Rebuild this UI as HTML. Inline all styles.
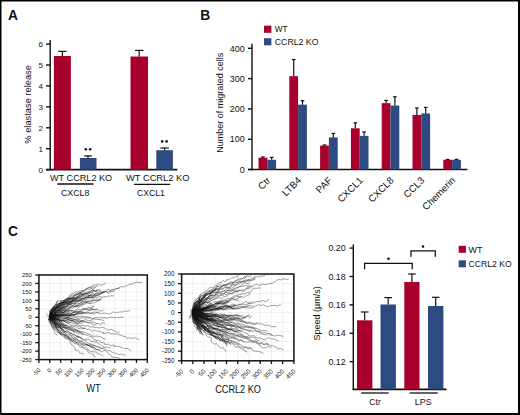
<!DOCTYPE html>
<html><head><meta charset="utf-8"><style>
html,body{margin:0;padding:0;background:#fff;overflow:hidden;}
svg{display:block;}
text{font-family:"Liberation Sans", sans-serif;}
</style></head><body>
<svg width="520" height="415" viewBox="0 0 520 415">
<rect width="520" height="415" fill="#fff"/>
<rect x="0.00" y="0.00" width="520.00" height="1.50" fill="#000"/>
<rect x="0.00" y="0.00" width="1.50" height="415.00" fill="#000"/>
<rect x="518.00" y="0.00" width="2.00" height="415.00" fill="#000"/>
<rect x="0.00" y="413.00" width="520.00" height="2.00" fill="#000"/>
<text x="8.10" y="19.50" font-size="13.8" font-weight="bold" fill="#111">A</text>
<text x="200.30" y="19.60" font-size="13.8" font-weight="bold" fill="#111">B</text>
<text x="8.00" y="235.90" font-size="13.8" font-weight="bold" fill="#111">C</text>
<line x1="50.20" y1="40.00" x2="50.20" y2="170.35" stroke="#111" stroke-width="1.4"/>
<line x1="46.00" y1="169.65" x2="177.30" y2="169.65" stroke="#111" stroke-width="1.7"/>
<line x1="46.00" y1="169.65" x2="50.20" y2="169.65" stroke="#111" stroke-width="1.4"/>
<text x="42.90" y="172.55" font-size="8.0" text-anchor="end" fill="#111">0</text>
<line x1="46.00" y1="148.72" x2="50.20" y2="148.72" stroke="#111" stroke-width="1.4"/>
<text x="42.90" y="151.62" font-size="8.0" text-anchor="end" fill="#111">1</text>
<line x1="46.00" y1="127.79" x2="50.20" y2="127.79" stroke="#111" stroke-width="1.4"/>
<text x="42.90" y="130.69" font-size="8.0" text-anchor="end" fill="#111">2</text>
<line x1="46.00" y1="106.86" x2="50.20" y2="106.86" stroke="#111" stroke-width="1.4"/>
<text x="42.90" y="109.76" font-size="8.0" text-anchor="end" fill="#111">3</text>
<line x1="46.00" y1="85.93" x2="50.20" y2="85.93" stroke="#111" stroke-width="1.4"/>
<text x="42.90" y="88.83" font-size="8.0" text-anchor="end" fill="#111">4</text>
<line x1="46.00" y1="65.00" x2="50.20" y2="65.00" stroke="#111" stroke-width="1.4"/>
<text x="42.90" y="67.90" font-size="8.0" text-anchor="end" fill="#111">5</text>
<line x1="46.00" y1="44.07" x2="50.20" y2="44.07" stroke="#111" stroke-width="1.4"/>
<text x="42.90" y="46.97" font-size="8.0" text-anchor="end" fill="#111">6</text>
<text x="31.40" y="104.40" font-size="9.3" text-anchor="middle" transform="rotate(-90 31.40 104.40)" fill="#111">% elastase release</text>
<rect x="53.90" y="56.00" width="17.00" height="113.65" fill="#a8002c"/>
<line x1="62.40" y1="56.00" x2="62.40" y2="51.40" stroke="#111" stroke-width="1.2"/>
<line x1="58.30" y1="51.40" x2="66.50" y2="51.40" stroke="#111" stroke-width="1.2"/>
<rect x="79.90" y="158.00" width="16.60" height="11.65" fill="#2d4b80"/>
<line x1="88.00" y1="158.00" x2="88.00" y2="155.90" stroke="#111" stroke-width="1.2"/>
<line x1="84.20" y1="155.90" x2="91.80" y2="155.90" stroke="#111" stroke-width="1.2"/>
<rect x="130.50" y="56.50" width="17.50" height="113.15" fill="#a8002c"/>
<line x1="139.20" y1="56.50" x2="139.20" y2="50.40" stroke="#111" stroke-width="1.2"/>
<line x1="134.95" y1="50.40" x2="143.45" y2="50.40" stroke="#111" stroke-width="1.2"/>
<rect x="156.30" y="150.20" width="16.60" height="19.45" fill="#2d4b80"/>
<line x1="164.60" y1="150.20" x2="164.60" y2="148.00" stroke="#111" stroke-width="1.2"/>
<line x1="160.30" y1="148.00" x2="168.90" y2="148.00" stroke="#111" stroke-width="1.2"/>
<circle cx="85.80" cy="149.30" r="1.3" fill="#111"/>
<circle cx="90.20" cy="149.30" r="1.3" fill="#111"/>
<circle cx="162.20" cy="141.40" r="1.3" fill="#111"/>
<circle cx="166.60" cy="141.40" r="1.3" fill="#111"/>
<text x="50.00" y="181.40" font-size="9" textLength="62.20" lengthAdjust="spacingAndGlyphs" fill="#111">WT CCRL2 KO</text>
<line x1="57.40" y1="184.00" x2="93.50" y2="184.00" stroke="#111" stroke-width="1.3"/>
<text x="75.20" y="195.80" font-size="9" text-anchor="middle" textLength="28.50" lengthAdjust="spacingAndGlyphs" fill="#111">CXCL8</text>
<text x="126.00" y="181.40" font-size="9" textLength="63.50" lengthAdjust="spacingAndGlyphs" fill="#111">WT CCRL2 KO</text>
<line x1="134.10" y1="184.30" x2="170.20" y2="184.30" stroke="#111" stroke-width="1.3"/>
<text x="150.90" y="195.80" font-size="9" text-anchor="middle" textLength="27.70" lengthAdjust="spacingAndGlyphs" fill="#111">CXCL1</text>
<line x1="252.00" y1="43.80" x2="252.00" y2="170.20" stroke="#111" stroke-width="1.4"/>
<line x1="248.00" y1="169.50" x2="467.40" y2="169.50" stroke="#111" stroke-width="1.7"/>
<line x1="248.00" y1="169.50" x2="252.00" y2="169.50" stroke="#111" stroke-width="1.4"/>
<text x="244.80" y="172.70" font-size="9.0" text-anchor="end" fill="#111">0</text>
<line x1="248.00" y1="139.20" x2="252.00" y2="139.20" stroke="#111" stroke-width="1.4"/>
<text x="244.80" y="142.40" font-size="9.0" text-anchor="end" fill="#111">100</text>
<line x1="248.00" y1="108.90" x2="252.00" y2="108.90" stroke="#111" stroke-width="1.4"/>
<text x="244.80" y="112.10" font-size="9.0" text-anchor="end" fill="#111">200</text>
<line x1="248.00" y1="78.60" x2="252.00" y2="78.60" stroke="#111" stroke-width="1.4"/>
<text x="244.80" y="81.80" font-size="9.0" text-anchor="end" fill="#111">300</text>
<line x1="248.00" y1="48.30" x2="252.00" y2="48.30" stroke="#111" stroke-width="1.4"/>
<text x="244.80" y="51.50" font-size="9.0" text-anchor="end" fill="#111">400</text>
<text x="223.00" y="102.70" font-size="9" text-anchor="middle" transform="rotate(-90 223.00 102.70)" fill="#111">Number of migrated cells</text>
<rect x="258.50" y="157.68" width="8.80" height="11.82" fill="#a8002c"/>
<rect x="267.30" y="159.80" width="8.80" height="9.70" fill="#2d4b80"/>
<line x1="262.90" y1="157.68" x2="262.90" y2="156.93" stroke="#111" stroke-width="1.2"/>
<line x1="261.10" y1="156.93" x2="264.70" y2="156.93" stroke="#111" stroke-width="1.2"/>
<line x1="271.70" y1="159.80" x2="271.70" y2="157.38" stroke="#111" stroke-width="1.2"/>
<line x1="269.90" y1="157.38" x2="273.50" y2="157.38" stroke="#111" stroke-width="1.2"/>
<text x="271.10" y="181.00" font-size="9.7" text-anchor="end" transform="rotate(-45 271.10 181.00)" fill="#111">Ctr</text>
<rect x="289.30" y="76.18" width="8.80" height="93.32" fill="#a8002c"/>
<rect x="298.10" y="104.66" width="8.80" height="64.84" fill="#2d4b80"/>
<line x1="293.70" y1="76.18" x2="293.70" y2="59.51" stroke="#111" stroke-width="1.2"/>
<line x1="291.90" y1="59.51" x2="295.50" y2="59.51" stroke="#111" stroke-width="1.2"/>
<line x1="302.50" y1="104.66" x2="302.50" y2="100.72" stroke="#111" stroke-width="1.2"/>
<line x1="300.70" y1="100.72" x2="304.30" y2="100.72" stroke="#111" stroke-width="1.2"/>
<text x="301.90" y="181.00" font-size="9.7" text-anchor="end" transform="rotate(-45 301.90 181.00)" fill="#111">LTB4</text>
<rect x="320.10" y="145.56" width="8.80" height="23.94" fill="#a8002c"/>
<rect x="328.90" y="137.38" width="8.80" height="32.12" fill="#2d4b80"/>
<line x1="324.50" y1="145.56" x2="324.50" y2="144.96" stroke="#111" stroke-width="1.2"/>
<line x1="322.70" y1="144.96" x2="326.30" y2="144.96" stroke="#111" stroke-width="1.2"/>
<line x1="333.30" y1="137.38" x2="333.30" y2="133.44" stroke="#111" stroke-width="1.2"/>
<line x1="331.50" y1="133.44" x2="335.10" y2="133.44" stroke="#111" stroke-width="1.2"/>
<text x="332.70" y="181.00" font-size="9.7" text-anchor="end" transform="rotate(-45 332.70 181.00)" fill="#111">PAF</text>
<rect x="350.90" y="128.29" width="8.80" height="41.21" fill="#a8002c"/>
<rect x="359.70" y="135.87" width="8.80" height="33.63" fill="#2d4b80"/>
<line x1="355.30" y1="128.29" x2="355.30" y2="122.84" stroke="#111" stroke-width="1.2"/>
<line x1="353.50" y1="122.84" x2="357.10" y2="122.84" stroke="#111" stroke-width="1.2"/>
<line x1="364.10" y1="135.87" x2="364.10" y2="131.93" stroke="#111" stroke-width="1.2"/>
<line x1="362.30" y1="131.93" x2="365.90" y2="131.93" stroke="#111" stroke-width="1.2"/>
<text x="363.50" y="181.00" font-size="9.7" text-anchor="end" transform="rotate(-45 363.50 181.00)" fill="#111">CXCL1</text>
<rect x="381.70" y="103.14" width="8.80" height="66.36" fill="#a8002c"/>
<rect x="390.50" y="105.57" width="8.80" height="63.93" fill="#2d4b80"/>
<line x1="386.10" y1="103.14" x2="386.10" y2="100.42" stroke="#111" stroke-width="1.2"/>
<line x1="384.30" y1="100.42" x2="387.90" y2="100.42" stroke="#111" stroke-width="1.2"/>
<line x1="394.90" y1="105.57" x2="394.90" y2="96.78" stroke="#111" stroke-width="1.2"/>
<line x1="393.10" y1="96.78" x2="396.70" y2="96.78" stroke="#111" stroke-width="1.2"/>
<text x="394.30" y="181.00" font-size="9.7" text-anchor="end" transform="rotate(-45 394.30 181.00)" fill="#111">CXCL8</text>
<rect x="412.50" y="114.96" width="8.80" height="54.54" fill="#a8002c"/>
<rect x="421.30" y="113.44" width="8.80" height="56.06" fill="#2d4b80"/>
<line x1="416.90" y1="114.96" x2="416.90" y2="107.99" stroke="#111" stroke-width="1.2"/>
<line x1="415.10" y1="107.99" x2="418.70" y2="107.99" stroke="#111" stroke-width="1.2"/>
<line x1="425.70" y1="113.44" x2="425.70" y2="107.39" stroke="#111" stroke-width="1.2"/>
<line x1="423.90" y1="107.39" x2="427.50" y2="107.39" stroke="#111" stroke-width="1.2"/>
<text x="425.10" y="181.00" font-size="9.7" text-anchor="end" transform="rotate(-45 425.10 181.00)" fill="#111">CCL3</text>
<rect x="443.30" y="159.80" width="8.80" height="9.70" fill="#a8002c"/>
<rect x="452.10" y="159.80" width="8.80" height="9.70" fill="#2d4b80"/>
<line x1="447.70" y1="159.80" x2="447.70" y2="159.50" stroke="#111" stroke-width="1.2"/>
<line x1="445.90" y1="159.50" x2="449.50" y2="159.50" stroke="#111" stroke-width="1.2"/>
<line x1="456.50" y1="159.80" x2="456.50" y2="159.35" stroke="#111" stroke-width="1.2"/>
<line x1="454.70" y1="159.35" x2="458.30" y2="159.35" stroke="#111" stroke-width="1.2"/>
<text x="455.90" y="181.00" font-size="9.7" text-anchor="end" transform="rotate(-45 455.90 181.00)" fill="#111">Chemerin</text>
<rect x="264.00" y="25.70" width="7.40" height="7.10" fill="#a8002c"/>
<rect x="264.00" y="38.20" width="7.40" height="7.10" fill="#2d4b80"/>
<text x="274.80" y="32.40" font-size="9" textLength="12.80" lengthAdjust="spacingAndGlyphs" fill="#111">WT</text>
<text x="274.80" y="45.00" font-size="9" textLength="43.70" lengthAdjust="spacingAndGlyphs" fill="#111">CCRL2 KO</text>
<line x1="353.30" y1="244.40" x2="353.30" y2="389.90" stroke="#111" stroke-width="1.4"/>
<line x1="352.60" y1="389.30" x2="446.50" y2="389.30" stroke="#111" stroke-width="1.7"/>
<line x1="349.60" y1="248.10" x2="353.30" y2="248.10" stroke="#111" stroke-width="1.4"/>
<text x="345.60" y="251.20" font-size="8.8" text-anchor="end" fill="#111">0.20</text>
<line x1="349.60" y1="276.50" x2="353.30" y2="276.50" stroke="#111" stroke-width="1.4"/>
<text x="345.60" y="279.60" font-size="8.8" text-anchor="end" fill="#111">0.18</text>
<line x1="349.60" y1="304.90" x2="353.30" y2="304.90" stroke="#111" stroke-width="1.4"/>
<text x="345.60" y="308.00" font-size="8.8" text-anchor="end" fill="#111">0.16</text>
<line x1="349.60" y1="333.30" x2="353.30" y2="333.30" stroke="#111" stroke-width="1.4"/>
<text x="345.60" y="336.40" font-size="8.8" text-anchor="end" fill="#111">0.14</text>
<line x1="349.60" y1="361.70" x2="353.30" y2="361.70" stroke="#111" stroke-width="1.4"/>
<text x="345.60" y="364.80" font-size="8.8" text-anchor="end" fill="#111">0.12</text>
<text x="320.50" y="313.35" font-size="9" text-anchor="middle" transform="rotate(-90 320.50 313.35)" fill="#111">Speed (µm/s)</text>
<rect x="357.00" y="320.30" width="15.40" height="69.00" fill="#a8002c"/>
<line x1="364.70" y1="320.30" x2="364.70" y2="312.00" stroke="#111" stroke-width="1.2"/>
<line x1="360.90" y1="312.00" x2="368.50" y2="312.00" stroke="#111" stroke-width="1.2"/>
<rect x="380.50" y="304.50" width="15.40" height="84.80" fill="#2d4b80"/>
<line x1="388.20" y1="304.50" x2="388.20" y2="297.60" stroke="#111" stroke-width="1.2"/>
<line x1="384.40" y1="297.60" x2="392.00" y2="297.60" stroke="#111" stroke-width="1.2"/>
<rect x="404.30" y="282.00" width="15.20" height="107.30" fill="#a8002c"/>
<line x1="411.90" y1="282.00" x2="411.90" y2="274.00" stroke="#111" stroke-width="1.2"/>
<line x1="408.10" y1="274.00" x2="415.70" y2="274.00" stroke="#111" stroke-width="1.2"/>
<rect x="428.00" y="306.00" width="15.40" height="83.30" fill="#2d4b80"/>
<line x1="435.70" y1="306.00" x2="435.70" y2="297.30" stroke="#111" stroke-width="1.2"/>
<line x1="431.90" y1="297.30" x2="439.50" y2="297.30" stroke="#111" stroke-width="1.2"/>
<polyline points="364.6,269.3 364.6,263.3 412.2,263.3 412.2,269.3" fill="none" stroke="#111" stroke-width="1.3"/>
<polyline points="411.0,256.8 411.0,250.9 435.3,250.9 435.3,256.8" fill="none" stroke="#111" stroke-width="1.3"/>
<circle cx="388.50" cy="258.80" r="1.3" fill="#111"/>
<circle cx="423.00" cy="246.50" r="1.3" fill="#111"/>
<line x1="361.20" y1="393.00" x2="388.70" y2="393.00" stroke="#111" stroke-width="1.3"/>
<line x1="409.70" y1="393.00" x2="437.70" y2="393.00" stroke="#111" stroke-width="1.3"/>
<text x="375.00" y="404.60" font-size="9" text-anchor="middle" textLength="11.50" lengthAdjust="spacingAndGlyphs" fill="#111">Ctr</text>
<text x="423.20" y="404.60" font-size="9" text-anchor="middle" textLength="16.80" lengthAdjust="spacingAndGlyphs" fill="#111">LPS</text>
<rect x="458.70" y="245.80" width="7.20" height="7.00" fill="#a8002c"/>
<rect x="458.70" y="260.30" width="7.20" height="7.00" fill="#2d4b80"/>
<text x="468.60" y="252.60" font-size="9" textLength="14.00" lengthAdjust="spacingAndGlyphs" fill="#111">WT</text>
<text x="468.60" y="267.10" font-size="9" textLength="43.00" lengthAdjust="spacingAndGlyphs" fill="#111">CCRL2 KO</text>
<path d="M49.74 275.00V359.60M60.58 275.00V359.60M71.42 275.00V359.60M82.26 275.00V359.60M93.10 275.00V359.60M103.94 275.00V359.60M114.78 275.00V359.60M125.62 275.00V359.60M136.46 275.00V359.60M147.30 275.00V359.60M38.90 351.14H147.30M38.90 342.68H147.30M38.90 334.22H147.30M38.90 325.76H147.30M38.90 317.30H147.30M38.90 308.84H147.30M38.90 300.38H147.30M38.90 291.92H147.30M38.90 283.46H147.30" stroke="#e2e2e2" stroke-width="0.5" fill="none"/>
<path d="M49.7 317.3 51.1 317.6 52.8 319.8 53.1 320.6 53.6 322.3 55.0 324.1 55.1 325.3 56.3 325.8 57.7 327.1 58.9 327.9 59.7 328.9M49.7 317.3 49.8 317.3 51.3 319.1 52.1 320.1 52.8 319.3 54.3 319.2M49.7 317.3 51.4 319.0 52.7 318.2 52.9 319.3 54.0 318.3 53.4 318.4M49.7 317.3 50.3 319.0 50.7 316.9 52.1 315.7 53.7 314.5 55.5 313.4M49.7 317.3 48.7 316.4 49.9 314.5 52.3 313.5 52.5 311.8 53.5 310.6 54.5 309.7 55.9 308.1 56.7 307.4 57.4 307.8M49.7 317.3 48.6 319.9 49.3 322.6 50.1 324.0 51.7 324.8 52.4 326.6 52.9 327.7 53.9 328.5 53.9 330.5 54.3 331.7 54.3 332.4 54.9 333.1 56.0 334.2 57.9 335.2M49.7 317.3 51.4 319.5 49.6 319.8 50.0 318.9 50.0 319.3 50.2 320.1M49.7 317.3 52.2 317.3 53.8 316.8 55.3 314.6 56.5 314.4 58.7 314.1M49.7 317.3 49.8 317.6 50.6 317.6 52.2 318.7 52.6 319.8 53.7 320.7M49.7 317.3 51.9 318.0 54.0 318.1 55.3 318.1 57.2 318.6 59.9 318.5M49.7 317.3 50.7 315.6 51.6 316.4 52.5 317.8 55.4 321.3 56.0 323.2 58.4 323.9 59.7 324.6 61.0 325.8 62.4 327.0 63.8 327.0 65.5 327.7M49.7 317.3 50.4 315.9 53.5 316.3 55.4 316.8 56.9 316.8 59.2 316.2 61.5 314.8 63.0 315.2M49.7 317.3 53.1 321.3 55.5 323.0 56.0 323.5 55.8 322.8 55.5 324.0 57.3 325.5 58.4 325.6 59.8 325.9 62.0 326.6 63.7 327.5 64.2 328.2 66.1 329.2 67.5 329.3M49.7 317.3 51.1 316.1 52.8 316.2 54.6 315.4 55.7 315.4 56.4 314.8M49.7 317.3 49.5 315.1 52.7 315.5 53.8 314.0 53.8 313.1 56.0 312.4 56.3 312.2M49.7 317.3 51.0 317.9 52.1 317.5 53.8 319.7 55.8 320.5 56.5 322.3 58.3 322.7 59.0 323.6 60.4 324.0 62.1 324.8 63.5 324.9M49.7 317.3 53.2 318.5 55.0 318.3 56.7 318.7 57.2 318.6 57.9 318.9 59.4 319.0 60.8 320.7 63.0 320.4 64.6 320.0 66.5 320.8 68.7 322.0M49.7 317.3 50.5 317.2 52.1 317.3 53.1 315.8 53.5 314.5 54.1 315.0M49.7 317.3 49.9 314.8 51.2 311.7 52.2 308.9 52.7 308.8 53.8 307.7 55.1 307.6 55.0 308.4 55.9 306.6 56.7 303.6 57.0 302.8 57.1 302.4 57.4 300.8M49.7 317.3 50.5 316.4 51.6 316.6 52.7 316.6 52.7 315.6 54.0 316.4M49.7 317.3 50.1 316.5 49.7 317.2 50.0 318.2 49.3 318.3 49.8 319.3M49.7 317.3 51.1 318.5 51.1 320.9 51.4 320.9 52.8 321.9 53.1 321.7M49.7 317.3 51.9 316.8 54.1 318.4 55.3 318.6 56.6 318.2 59.3 319.1M49.7 317.3 49.9 314.8 52.3 314.5 53.9 314.4 55.5 314.0 56.2 312.9M49.7 317.3 50.5 314.0 51.6 311.0 52.5 309.9 54.3 309.3 54.4 307.3 56.7 308.3 57.3 307.0 58.5 305.7 59.0 305.7 59.9 304.1 60.1 304.0 61.3 304.3 62.2 303.2 63.6 302.4M49.7 317.3 49.3 319.3 50.7 319.0 51.8 318.8 51.6 320.2 50.7 319.8M49.7 317.3 50.0 318.6 51.6 318.5 51.0 318.4 52.7 319.8 53.8 319.4M49.7 317.3 52.7 316.8 54.8 316.7 56.4 317.1 57.4 316.0 59.2 316.2 60.1 316.7 62.1 315.8 64.2 315.5 65.9 314.8 67.4 315.5 69.8 315.4 71.2 315.8M49.7 317.3 51.5 316.5 53.4 315.7 54.7 315.4 56.5 315.4 58.9 314.3 60.2 314.0 61.5 312.7 63.3 312.4 65.0 312.5M49.7 317.3 52.7 318.4 54.7 318.6 56.4 316.3 54.9 312.8 55.4 311.3 56.9 310.7 59.4 310.0 59.9 310.4 62.2 308.7 63.0 307.3 64.8 306.3 64.9 305.9M49.7 317.3 52.2 318.3 52.4 318.5 54.8 319.2 55.0 319.0 56.3 319.3M49.7 317.3 50.9 319.5 49.7 319.5 48.5 319.1 48.9 320.0 49.0 319.7M49.7 317.3 49.6 317.8 50.7 319.5 51.9 319.3 52.1 319.6 52.5 319.9M49.7 317.3 49.1 318.9 50.3 317.8 50.6 317.8 51.2 318.1 53.2 318.4M49.7 317.3 50.2 320.1 51.6 320.8 52.5 321.6 54.2 322.0 55.7 322.6M49.7 317.3 50.1 318.7 50.8 320.9 51.6 321.7 52.1 322.7 53.5 323.8 55.5 326.5 55.8 328.1 56.9 326.8 55.9 328.1 57.4 329.6 58.5 332.1 59.7 332.6 60.3 333.9M49.7 317.3 51.6 318.3 50.7 317.8 52.4 317.3 53.2 317.5 55.0 317.6M49.7 317.3 51.5 318.7 53.8 318.0 55.0 319.6 54.8 322.9 56.5 324.3 56.5 325.5 59.5 324.7 60.0 326.1 61.3 327.3 63.2 327.8 63.4 327.5 64.4 328.3M49.7 317.3 49.4 316.6 47.7 316.5 46.9 315.6 46.8 314.3 46.9 313.3M49.7 317.3 48.3 319.6 49.6 320.4 50.9 321.2 52.1 322.5 52.9 323.5 53.3 324.1 53.3 326.0 53.4 328.0 55.0 328.1M49.7 317.3 52.0 315.3 54.1 316.3 54.9 315.3 57.2 314.8 57.9 314.6M49.7 317.3 50.5 317.2 51.3 313.5 52.3 312.5 52.1 311.5 53.4 310.2M49.7 317.3 52.2 318.4 53.8 318.6 53.4 320.0 54.0 321.6 55.1 322.2 57.4 323.0 58.4 325.2 60.3 326.0 60.8 327.6 61.5 329.0 62.5 329.3 63.5 330.0M49.7 317.3 49.9 315.8 51.0 314.3 52.1 313.7 54.4 314.3 55.6 312.0 57.4 311.2 58.6 310.3 59.7 308.9 60.8 309.7 62.0 308.8 63.6 307.8 64.8 305.2M49.7 317.3 49.6 320.3 51.7 318.1 53.7 319.1 55.1 318.1 57.0 318.2 59.5 317.2M49.7 317.3 52.4 316.9 52.2 318.1 52.2 318.9 52.9 319.9 53.1 321.6M49.7 317.3 51.7 318.9 52.3 319.0 54.9 320.2 57.9 318.6 60.3 319.8 61.5 319.6 62.8 319.9 64.7 321.1 65.3 322.0 66.7 322.2 68.7 321.9 70.4 322.5M49.7 317.3 51.2 317.0 52.8 317.8 53.9 318.2 56.1 319.2 57.9 320.4M49.7 317.3 50.9 314.3 52.4 312.2 53.6 311.7 55.0 311.3 56.2 310.8 57.9 309.9 59.3 310.8 61.1 309.3 61.1 308.2 62.9 306.6 63.6 305.2 65.1 303.5 66.5 303.4 67.7 304.2M49.7 317.3 52.5 319.4 53.6 321.8 54.8 323.1 55.8 323.5 57.4 324.8 58.6 326.1 59.7 326.8 61.3 328.4 61.6 328.3 63.2 328.7 63.8 330.0 65.6 331.8 66.9 331.8 69.1 331.5 69.9 333.4 71.8 333.4 73.2 335.0 75.0 334.9 76.4 335.8 77.7 335.8 78.6 337.7 80.1 337.6 81.4 337.5M49.7 317.3 50.7 313.5 52.8 312.0 54.8 309.6 55.9 308.4 57.7 307.8 58.2 307.5 59.5 305.6 61.0 304.6 62.0 303.8 62.6 302.5 63.9 302.7 65.0 302.4 67.2 300.8 67.7 299.6 69.9 299.5 70.4 299.3 71.7 298.3 73.1 298.9 74.9 298.6 76.9 298.1 77.7 297.3 78.8 295.2 80.8 294.2 82.2 294.7 83.1 294.1 83.9 292.9 85.1 292.8 86.2 293.2 88.3 291.3 89.8 291.3M49.7 317.3 50.5 317.6 51.5 317.2 53.2 318.3 55.7 318.4 57.1 319.4 59.4 320.1 61.8 321.2 62.5 320.5 64.9 320.2 66.1 320.4 69.5 320.1 70.9 321.1 72.5 321.4 74.8 322.3 75.6 322.6 77.2 323.0 79.3 322.7 81.8 324.0M49.7 317.3 50.9 311.1 53.1 307.7 54.6 306.8 55.1 304.8 56.8 301.9 57.7 300.7 59.6 301.6 60.4 300.8 61.5 300.5 63.2 300.6 64.8 300.5 65.6 299.4 66.7 298.5 69.1 297.8 70.1 296.7 71.1 295.6 71.8 294.9 73.1 295.2 75.7 295.1 77.8 294.0 79.5 294.0 80.8 292.4 81.5 292.2 83.8 291.6 84.1 291.6 85.4 290.8 86.5 289.3 87.4 288.9 89.5 289.4 91.1 287.8 91.2 288.4 92.0 289.1 93.8 289.3 95.5 287.3 95.8 286.9M49.7 317.3 50.2 312.0 51.3 309.5 52.3 308.0 53.3 306.7 54.2 305.6 55.0 305.1 58.3 304.2 59.4 303.4 60.9 303.9 62.8 302.7 65.4 302.3 66.9 302.5 69.5 301.5 70.3 302.1 71.2 299.5 72.4 299.3 74.5 299.1 76.1 299.5 77.2 297.7 78.7 297.0 79.6 297.1 81.9 296.2 83.0 295.7 85.2 296.1 87.1 296.3 88.2 295.8 88.3 295.3 90.0 295.8 91.9 294.5 93.6 293.3 94.9 294.1 97.7 293.3 99.7 293.5 101.4 292.8 102.9 292.4 104.8 292.5M49.7 317.3 50.8 315.7 50.6 315.1 51.6 314.0 53.0 311.9 54.5 310.0 55.8 308.8 57.0 307.3 58.3 307.6 59.0 306.6 60.6 306.2 61.2 304.8 62.1 303.0 63.1 301.6 63.5 302.2 65.7 301.0M49.7 317.3 51.5 313.8 53.4 311.8 55.1 309.9 55.0 309.1 57.3 307.6 58.3 306.0 59.3 305.2 60.8 304.0 62.9 303.0 64.9 301.0 66.4 299.9 67.0 299.6 67.8 299.6 68.8 299.3 70.9 298.1 71.5 298.6 72.7 297.7 73.3 297.3 73.6 295.8 75.5 293.5 77.2 293.5 79.6 293.1 80.8 292.9 81.7 291.4 83.6 290.2 84.6 290.2 85.4 289.5 86.1 289.0 88.5 288.1 89.3 287.5 90.4 288.0 91.3 287.0 94.0 287.2 94.9 287.0 97.7 285.9 98.3 286.7M49.7 317.3 52.2 315.8 52.8 315.0 53.3 313.8 54.9 313.0 56.3 314.3 59.2 314.9 61.9 314.8 63.0 314.0 65.5 315.0 68.2 314.1 70.0 314.9 70.9 314.3 73.1 314.6 74.1 315.1 75.7 313.8 76.6 313.6 79.0 312.0 81.3 312.2 82.3 312.6 83.9 312.1M49.7 317.3 51.7 316.9 54.3 315.3 55.7 315.3 56.2 315.8 58.8 316.3 59.9 316.4 62.1 316.6 64.4 315.9 65.6 315.6 67.0 315.6 69.2 315.9 71.7 316.1 74.0 315.7 75.5 316.4 76.7 316.7 78.4 316.5 82.0 316.0 83.6 316.6 84.4 316.6 86.2 317.0 88.7 317.0 90.7 318.0M49.7 317.3 51.3 311.3 52.8 309.3 53.1 308.2 53.6 306.5 56.0 305.6 57.3 305.0 60.2 302.9 61.4 301.7 61.9 302.7 63.4 302.4 64.8 301.4 68.2 301.0 69.2 300.0 70.3 298.7 72.5 299.1 73.6 298.5 74.9 298.7 75.0 299.1 77.0 297.7 78.5 298.2 79.7 297.3 80.4 296.7 82.6 295.3 84.1 294.3 85.2 293.7 86.8 293.0 88.3 292.8 89.8 292.8 92.5 292.0 93.7 290.3 95.6 291.4 96.9 290.5 98.9 289.5 100.1 290.3 100.4 289.8M49.7 317.3 51.7 317.7 53.7 317.1 55.2 317.0 57.4 314.5 58.7 313.3 60.6 312.8 62.5 313.2 64.3 312.2 65.3 310.8 68.3 309.9 70.7 309.9 71.5 310.5 72.5 310.3M49.7 317.3 50.4 315.0 53.9 314.9 55.8 314.6 57.5 315.0 59.0 315.8 60.8 315.5 62.6 315.6 64.3 315.1 66.3 315.3 68.2 314.0 70.1 314.0 71.3 313.8 73.5 312.4 75.0 312.9 76.9 312.5 78.1 312.7M49.7 317.3 50.5 315.2 52.4 314.1 54.0 312.3 55.4 311.9 56.9 311.1 58.6 310.8 60.6 311.0 61.7 309.7 63.6 309.1 65.0 308.4 66.6 306.4 67.5 305.7 68.3 304.8 70.6 304.6 71.2 304.1 73.4 303.1 75.2 304.1 76.0 302.6 76.7 301.6 79.5 301.1 81.3 301.2M49.7 317.3 50.8 316.2 52.4 315.5 53.7 314.5 55.0 312.7 56.7 312.5 58.1 312.6 60.5 311.9 61.4 311.7 63.3 311.3 65.8 311.2 67.8 310.2 68.5 309.4 70.2 308.5 71.6 307.8 72.4 308.1 74.9 306.7 76.6 306.7 78.9 307.5 79.8 306.0 81.8 306.0 82.2 304.3 84.3 304.5 86.1 303.3 86.3 302.3 88.9 303.5 91.2 303.8 93.4 302.5 95.9 302.2 96.8 300.8 97.7 300.9 98.9 300.3 99.9 299.5 102.1 299.1M49.7 317.3 53.2 320.3 54.2 322.7 53.6 323.0 54.1 324.0 54.9 325.0 54.8 325.8 56.1 326.6 57.0 327.1 59.0 327.7M49.7 317.3 51.8 315.5 53.8 314.9 55.0 313.6 56.1 313.4 58.1 313.1 59.7 312.7 61.4 312.7 64.0 312.9 66.1 314.2 66.8 314.2 68.9 312.9 69.9 312.7 71.4 313.1 73.3 312.4 75.4 311.6 76.7 311.2 79.3 311.3 81.3 311.7 82.2 311.8 83.8 309.7 85.5 309.1 87.6 309.5 89.9 310.3 92.0 310.0 92.6 309.6 94.8 309.4 97.4 309.7M49.7 317.3 51.1 317.2 52.3 318.7 54.7 319.7 56.4 321.0 58.0 321.9 59.7 323.1 61.3 323.4 62.8 323.5 64.4 324.5 64.4 324.5 66.0 325.0 68.4 326.4 69.8 326.5 71.1 326.3 73.0 327.0 74.4 326.6 76.0 326.7 78.2 328.4 79.3 328.5 81.5 328.2 83.6 328.1 84.9 328.9M49.7 317.3 52.5 318.9 54.6 319.2 55.2 318.7 57.4 319.1 58.6 319.7 61.4 320.2 60.9 320.6 62.4 320.4 64.4 320.8 66.2 320.1 67.7 319.1 69.8 320.5 72.5 320.4 73.8 320.3 74.8 321.4 77.8 321.7 79.0 321.5 81.6 321.7 82.4 322.2 84.8 321.9 87.8 322.4 88.9 322.6 91.3 323.4 93.5 325.0 95.2 324.8 96.8 323.9M49.7 317.3 50.4 313.2 50.7 312.3 51.0 309.3 53.0 308.9 54.4 307.5 56.3 306.1 58.5 305.8 60.3 306.1 61.3 305.7 61.9 304.8 63.4 303.2 63.0 303.2 64.6 302.9 66.9 302.0 68.5 301.7 70.3 300.9 70.6 300.5M49.7 317.3 50.7 322.9 51.6 326.0 52.5 328.4 53.8 329.3 55.9 329.8 56.4 331.5 57.3 332.3 60.1 332.7 60.1 334.3 61.3 334.4 63.5 334.7 66.2 336.0 66.8 335.4 68.4 337.0 68.5 338.7 68.9 339.0 71.0 338.9 72.7 340.1 74.0 339.5 74.6 340.4 76.6 340.9 78.0 341.5 80.1 342.5 81.2 343.3 82.1 344.0 83.5 344.4 85.8 344.2 86.7 344.7 88.2 345.1 89.5 345.8 90.5 347.1 92.4 346.8 93.9 347.3 95.2 348.3M49.7 317.3 50.4 318.5 50.7 318.3 51.0 318.2 53.4 318.2 55.0 320.1 57.1 321.6 59.4 323.5 62.0 324.9 63.0 325.2 64.3 326.2 66.1 327.1 66.9 327.7 68.6 327.2 69.7 327.7 71.1 329.1 72.8 329.8 75.1 329.5 76.2 329.9 78.4 330.7 79.3 331.4 80.8 332.4 82.3 333.1M49.7 317.3 51.7 316.9 54.6 318.1 56.9 319.3 58.2 319.4 59.9 320.2 60.2 321.9 60.4 322.5 61.8 323.9 63.8 325.0 65.1 325.7 67.6 325.3 68.7 327.1 70.3 327.5 71.9 327.7 73.1 327.9 75.1 328.8 76.2 330.0 78.1 331.3 79.4 332.2 80.1 332.2 81.9 332.8 84.1 334.4M49.7 317.3 51.5 324.0 53.0 325.9 54.8 326.7 56.0 327.1 56.9 329.2 57.8 331.2 59.1 333.4 60.3 333.6 62.2 334.6 64.1 335.7 64.9 337.5 65.6 338.2 67.8 338.1 68.2 338.3 69.8 339.1 71.1 339.9 72.1 341.5 73.5 340.9 75.7 341.6 76.3 342.3 78.1 342.6 78.9 342.9 80.2 343.3 81.3 344.9 82.8 344.7 83.6 345.3 85.7 346.0 86.6 345.2 88.5 345.5 89.2 345.5 89.8 346.9 92.0 346.9 92.9 348.2 94.6 349.9 96.4 349.7 97.4 349.7 99.2 350.0 100.7 349.6M49.7 317.3 50.7 323.0 51.9 325.1 53.4 326.9 55.8 328.5 57.6 329.2 59.2 330.6 60.5 331.2 61.1 332.2 62.3 333.3 64.4 334.6 64.7 336.3 66.1 337.0 67.8 336.9 70.3 337.2 71.6 338.2 73.1 337.8 74.9 339.8 76.4 339.0 77.7 340.6 78.5 340.5 79.9 341.5 80.7 341.2 81.4 341.0 83.2 341.7 84.0 342.8 86.2 344.1 88.9 345.1 89.2 344.9 90.9 344.6 92.0 345.1 93.3 345.8 93.4 345.5 95.6 345.9 97.0 346.2 98.7 346.8 100.9 348.2 102.3 348.8 103.4 347.8M49.7 317.3 50.5 316.3 51.4 317.2 53.7 316.9 55.6 315.8 57.5 315.8 59.9 315.3 61.5 314.6 64.7 314.9 67.1 316.0 69.0 315.6 70.1 315.3 71.1 315.6 72.5 314.2 74.8 314.3 76.1 314.4 77.1 313.0 79.5 313.1M49.7 317.3 51.7 314.4 52.1 312.9 52.8 311.8 53.9 311.4 56.0 310.3 58.1 309.9 60.3 307.9 61.4 306.7 62.2 305.9 63.0 305.0 64.8 303.6 66.9 302.7 67.9 302.6 69.2 302.0 69.6 301.1 70.6 301.0 72.6 300.7 75.3 300.1 77.4 298.7 78.1 298.1 80.1 298.0 81.1 297.8 82.3 297.3 83.6 296.1 85.7 295.6 86.8 294.7 87.8 295.1 89.7 295.0 91.3 294.8M49.7 317.3 52.4 312.1 53.7 310.3 55.3 310.9 57.6 309.6 58.9 310.2 60.2 309.0 61.1 307.8 61.3 306.8 63.7 304.7 64.5 304.4 66.2 303.2 68.0 303.6 69.3 302.9 71.4 301.6 72.8 300.7 73.7 299.8 74.8 299.8 76.8 300.3 77.7 301.0 79.3 300.3 80.6 299.4 81.0 299.0 83.0 298.8 85.2 297.3 86.4 297.9 87.7 297.5 89.7 297.7 91.7 297.8 93.4 296.9M49.7 317.3 51.5 316.6 53.8 315.4 54.8 315.0 56.5 314.5 59.3 314.8 60.9 315.2 61.0 315.4 63.6 316.2 65.2 317.6 67.0 317.6 68.9 317.4 69.4 318.2 71.9 318.5 73.1 319.1 76.1 319.9 77.4 320.3 79.1 319.5 81.5 320.7 84.1 320.6 85.2 319.3 86.9 320.2 88.3 320.5 89.7 320.5 92.2 320.1 93.2 318.5 94.7 319.2 96.9 319.3 98.7 319.5 101.9 319.9 102.7 320.1 104.1 320.6M49.7 317.3 50.9 313.1 52.1 312.1 54.0 310.5 55.7 309.3 56.9 307.7 56.3 307.5 57.2 305.3 57.9 304.0 60.3 303.2 62.1 302.8 63.3 301.9 64.7 300.7 65.7 300.6 66.6 299.5 67.1 299.6 68.5 298.9 69.9 299.5 71.3 298.1 73.1 298.1 74.2 296.3 75.7 294.6 77.4 294.6 78.7 294.0 79.2 292.3 80.1 292.4 81.2 292.2M49.7 317.3 52.6 315.2 53.9 313.4 55.1 313.0 56.5 312.3 58.5 312.1 59.6 311.4 60.1 311.4 61.7 310.1 63.6 309.1 65.1 308.8 66.9 308.7 67.6 308.0 68.6 307.5 70.2 307.0 72.2 306.6 73.7 306.7 75.6 306.1 77.5 306.6 78.6 304.9M49.7 317.3 49.7 312.3 49.3 310.7 50.8 310.2 53.2 308.9 55.4 308.0 58.1 306.9 59.9 305.8 60.5 305.4 62.3 305.0 63.6 304.0 64.6 305.0 65.9 303.8 67.2 303.6 69.1 302.9 69.8 302.6 71.2 302.6 71.9 300.5 74.1 299.7M49.7 317.3 51.4 316.5 54.7 316.5 55.4 316.2 57.9 317.4 59.1 317.6 60.3 317.6 62.0 317.8 63.8 319.2 65.0 317.4 67.1 317.4 69.5 317.3 71.3 318.6 72.8 320.2 74.3 319.6 74.8 319.7 77.5 319.1 78.8 320.0M49.7 317.3 50.7 317.0 51.0 317.4 52.9 318.7 56.2 320.5 58.1 319.7 61.5 318.2 64.1 318.4 65.5 318.1 66.8 318.5 67.9 319.3 68.7 318.5 70.3 320.5 72.3 320.6 74.2 319.6 75.8 320.3 77.2 320.7 78.9 320.9 82.5 321.0 83.2 320.2M49.7 317.3 52.2 317.1 54.4 316.5 56.6 316.2 57.8 317.0 59.0 317.0 61.2 318.0 63.0 316.9 65.1 318.7 66.1 318.9 67.4 319.4 69.5 319.8 70.3 319.8 72.0 320.2 73.4 321.4 74.6 321.6 76.1 323.2 78.9 323.3 80.3 322.4 80.8 321.4 82.8 321.3 84.8 321.5 87.0 321.9 87.9 323.1 90.2 322.1 91.9 322.1 94.0 322.2 96.5 323.5 98.2 323.5 99.6 324.0 100.9 324.5 102.2 322.7 105.2 323.2M49.7 317.3 50.2 317.6 52.9 316.0 55.0 316.4 56.9 316.4 57.9 315.7 59.7 315.3 61.1 314.8 63.1 312.8 64.6 310.8 65.6 310.9 67.1 311.0 69.4 310.6 72.0 310.9 72.9 310.7 75.0 310.8 77.3 309.3 78.0 309.1 80.5 310.2 82.2 309.7 83.1 308.4 85.1 308.6 87.2 308.0 89.3 307.5 91.0 308.2 92.2 307.7 92.4 306.1 94.5 307.0M49.7 317.3 50.6 312.3 51.3 310.6 52.0 308.8 53.1 306.9 54.6 305.8 56.4 304.1 58.4 303.4 59.9 303.4 61.4 302.2 63.4 301.9 64.6 302.2 66.9 300.6 68.6 300.8 69.9 299.8 70.9 298.8 72.5 298.8 73.4 297.6 75.4 297.6 76.5 296.4 78.6 296.2 80.9 295.9 81.5 294.7 82.9 294.3 84.4 294.6 85.3 294.2 87.8 294.2 89.8 293.4 90.3 292.7 92.0 292.8 92.2 292.0 93.4 291.2 94.3 291.0 96.0 291.5 97.9 290.7 99.5 290.9 101.4 291.2M49.7 317.3 52.4 313.9 54.0 312.4 55.4 312.2 57.7 310.7 58.8 310.5 60.9 309.2 61.4 308.2 63.9 307.8 65.2 307.6 66.0 306.4 69.0 306.2 69.8 305.3 70.9 304.6 72.7 305.1 73.5 304.6 75.6 303.9 77.7 304.3 79.2 303.9 80.5 302.9 81.4 302.5 82.4 301.8 83.8 301.6 85.9 301.5 88.3 301.2 90.2 300.4 91.0 300.0 92.2 299.7 93.8 298.1 95.4 297.1 97.4 298.1 97.8 297.4 98.8 296.8 101.7 296.5M49.7 317.3 50.8 314.3 51.6 313.1 53.6 312.0 54.8 311.4 55.4 311.0 56.4 309.3 57.8 308.7 59.3 308.1 60.4 307.1 61.7 307.9M49.7 317.3 50.8 313.0 51.9 312.2 54.1 310.7 56.2 309.5 57.0 308.4 57.9 308.2 59.2 307.8 61.6 307.5 63.5 307.2 65.7 308.2 67.2 306.9 68.2 305.4 70.0 304.0 72.2 303.4 73.5 303.8 74.9 303.4 76.6 303.0 79.8 303.3 81.3 302.6 82.0 301.1 83.3 301.3 84.9 300.7 85.1 299.8 86.4 299.7 88.7 298.9 90.2 297.1 92.2 297.5 93.9 297.3 94.2 297.8 95.5 295.9 97.5 295.9 99.1 295.0 101.1 293.9 103.3 293.1M49.7 317.3 51.2 317.0 52.1 317.0 53.8 316.9 56.7 316.3 59.1 315.5 61.1 315.0 62.2 314.7 63.8 315.4 66.3 314.2 67.3 313.6 69.5 314.7 71.3 314.6 73.1 314.9 74.0 314.7 76.5 314.2 78.5 313.6 79.5 313.8 81.6 313.3 83.4 313.2 85.2 312.2 85.8 312.7 89.3 312.9 89.8 312.9 91.0 313.4 93.4 312.2 95.6 312.1 98.0 312.2 99.1 312.4M49.7 317.3 51.0 318.8 51.8 320.5 53.6 321.4 55.2 321.2 56.7 322.2 57.3 323.7 59.2 325.0 60.9 326.2 62.3 326.7 64.2 327.5 65.1 328.0 66.4 327.8 67.6 329.3 68.9 329.9 70.4 330.5 71.1 330.2 73.8 331.8 74.3 333.0M49.7 317.3 51.5 318.5 53.1 316.6 54.7 315.2 56.3 312.2 57.0 311.2 59.0 310.7 59.8 310.4 61.6 310.8 63.3 310.1 64.6 309.8 64.9 308.8M49.7 317.3 52.7 319.0 54.9 318.5 56.0 316.5 58.5 316.4 59.7 314.8 61.2 314.6 62.4 314.6 63.0 314.7 65.0 315.6M49.7 317.3 50.4 313.0 52.1 310.9 52.6 309.0 53.4 308.9 54.9 307.4 57.6 308.0 59.5 306.9 60.8 305.9 62.0 305.7 62.5 305.2 63.7 303.9 64.4 302.3 65.7 302.4 67.7 301.7 68.8 302.0 69.7 302.3 71.9 300.7 74.1 299.9M49.7 317.3 52.0 318.9 53.4 318.5 53.6 321.1 54.6 322.0 57.0 323.1 58.7 323.8 60.2 324.7 61.4 325.2 63.4 324.4 63.5 325.1 65.1 325.5 67.3 326.0M49.7 317.3 50.6 314.2 52.6 313.5 53.6 311.1 53.0 309.8 53.9 308.5 55.0 308.6 55.6 308.1 57.8 307.8 57.9 305.8M49.7 317.3 51.5 311.5 52.6 308.6 55.4 307.4 56.7 306.0 57.6 304.4 59.7 304.0 60.4 302.5 60.5 302.2 60.6 301.0 61.7 300.9 63.2 300.8 64.0 300.1 66.4 299.5 67.8 299.6 67.8 297.5 69.1 298.0 70.6 296.9 71.1 296.9 73.0 296.7 74.9 295.3 76.3 295.1 77.4 295.0 78.6 294.2 79.7 293.1 82.4 293.2M49.7 317.3 51.7 318.0 52.9 317.9 54.8 318.6 55.7 319.4 57.6 320.9 59.1 321.0 59.3 322.2 60.4 324.3 62.2 324.8 64.0 326.3 64.8 327.2 66.7 328.2 67.6 327.5 69.1 328.6 70.7 329.7 72.6 330.5 74.6 331.8 75.3 331.0 77.0 331.5 79.4 332.3M49.7 317.3 50.3 315.1 52.5 314.3 53.1 315.0 54.3 314.3 56.3 313.2 58.8 311.7 59.7 309.2 61.3 308.5 63.1 306.3 63.7 306.1 64.7 306.6 66.7 305.2 68.8 304.2 68.9 303.6 70.3 303.7 71.5 302.4 73.2 300.7 75.2 301.7 77.2 300.3 78.5 300.6 80.8 300.7 81.8 300.8 82.3 300.6M49.7 317.3 51.4 314.2 53.3 311.7 54.3 310.7 56.3 308.7 58.1 307.3 59.0 308.1 60.9 307.5 62.3 306.6 63.9 306.3 65.9 305.5 67.2 304.4 68.9 303.6 69.1 303.4 71.7 302.4 73.2 301.6 74.1 301.6 75.2 300.3 77.0 298.9 78.8 297.9 80.4 298.8 82.7 298.3 84.4 297.9 85.2 297.5 85.8 297.9 86.9 297.6 87.9 296.9 90.0 295.1 92.8 295.1 94.5 295.0 95.9 294.7 96.8 294.2 97.4 293.6M49.7 317.3 51.1 317.4 52.5 317.3 54.9 316.1 56.2 315.8 58.7 314.5 60.7 314.3 61.6 315.0 64.6 315.2 67.5 315.5 68.5 316.1 70.4 315.3 73.0 314.8 74.0 315.4 75.4 314.3M49.7 317.3 52.2 315.6 54.3 314.3 55.2 312.4 57.3 312.9 59.2 312.4 61.2 311.5 60.7 311.6 63.5 312.6 64.0 312.4 66.3 311.9 67.5 311.9 69.6 311.1 72.7 310.8 73.7 312.1 75.9 311.4 77.2 311.4 79.2 311.7 80.7 310.7 82.3 309.3 83.8 309.0 85.9 309.8 87.2 309.1 89.3 309.2 91.2 308.4 91.7 309.0 92.8 308.2M49.7 317.3 51.7 313.6 53.5 310.9 54.9 309.1 55.3 307.7 56.2 307.4 57.7 306.2 59.3 305.4 60.3 304.4 61.5 304.6 63.3 302.7 64.6 302.9 66.9 301.1 68.0 300.8 69.4 298.5 70.8 298.0 72.4 299.2 73.0 299.3 74.8 298.3 77.2 297.7 78.4 296.9 79.6 294.8 80.9 293.9 82.8 294.3 84.2 294.3 85.3 293.7 86.4 293.5 88.5 293.1 89.8 291.5 91.2 290.7 92.9 290.0 94.8 290.9 96.5 290.4 96.1 290.3 96.6 289.7 97.3 289.7M49.7 317.3 51.2 316.2 53.1 315.3 54.8 314.8 56.9 315.3 58.1 314.2 59.6 313.7 61.1 312.8 63.7 312.3 65.0 311.5 66.5 312.2 68.4 311.5 69.7 310.3M49.7 317.3 50.1 315.4 52.1 313.6 54.2 312.0 55.6 311.7 56.7 310.5 58.0 308.9 59.3 309.2 61.3 309.1 64.1 308.2 65.5 306.9 66.6 306.8 67.2 304.9 69.9 302.6 70.7 302.0 72.6 301.1 74.1 300.4 76.4 299.8 78.7 299.6 80.8 299.6 82.7 300.6 83.5 299.8 84.7 298.0 86.4 297.3 88.6 297.7 89.1 295.8 90.7 296.7 92.3 296.5 94.5 294.8 95.3 293.5 96.2 292.7 98.2 292.7 98.9 292.7 99.4 292.6 100.6 291.3 102.5 292.6 105.1 291.5 106.7 289.6 108.9 289.5 110.1 291.1 112.1 289.6 113.3 289.9 115.0 290.1 116.6 288.6 119.1 287.8 120.4 286.9 122.5 286.8 123.0 286.9 123.8 286.9 125.6 285.9 127.4 285.4 128.9 284.7 131.1 283.9 133.3 284.0 134.3 282.6 135.8 282.5 137.0 281.9 138.3 282.6 140.0 282.5 142.0 282.3M49.7 317.3 51.3 312.2 53.3 310.7 54.2 309.0 55.9 307.1 57.3 305.8 58.1 305.1 59.3 303.9 60.9 302.3 62.8 301.3 63.5 300.9 64.9 299.4 67.4 298.3 69.3 296.3 69.4 295.3 71.3 294.3 72.3 293.7 73.2 293.7 74.6 292.3 75.8 291.7 77.3 292.2 78.8 291.3 79.7 290.6 80.8 290.9 82.5 290.5 83.5 290.8 85.1 289.7 86.4 288.9 87.1 288.0 89.2 287.4 90.4 286.9 92.1 285.8 93.8 285.5 94.7 284.7 97.0 284.9 98.5 284.4 99.6 284.8 101.9 285.3 102.9 284.4 104.6 283.8 105.5 282.6M49.7 317.3 51.9 315.3 54.0 314.8 55.4 314.2 56.4 313.2 58.4 311.6 59.8 311.1 62.1 310.8 63.4 310.2 64.5 310.2 66.7 309.3 67.9 309.3 69.4 307.6 70.2 307.6 72.6 306.0 74.9 306.1 76.5 306.1 78.0 305.7 79.4 304.2 80.9 304.1 82.3 303.6 83.5 303.1 85.5 301.8 85.8 302.6 87.1 301.6 90.6 301.3 92.0 300.4 92.1 300.5 92.4 300.2 94.7 300.2 97.2 300.2 99.8 299.6 101.5 297.6 102.8 297.2 104.0 296.7 106.3 296.9 108.4 296.0 110.5 296.2 111.6 295.6 112.1 296.1 114.2 295.6M49.7 317.3 52.0 312.9 53.1 311.0 55.5 309.4 57.4 307.6 58.7 306.8 59.6 305.0 61.2 305.3 63.7 304.5 65.8 303.9 68.2 302.8 69.0 302.3 69.8 301.6 71.9 301.8 72.0 301.3 73.7 302.1 74.5 301.9 76.4 300.7 77.4 300.7 79.4 301.0 81.2 299.9 83.6 298.4 84.3 298.0 85.5 297.9 87.0 296.6 87.6 296.4 90.3 295.5 91.3 295.7 92.4 296.1 94.9 295.2 95.9 295.4 97.3 294.8 100.0 294.2 101.3 292.8 103.0 292.5 103.1 291.3 105.3 291.5 106.8 291.8 107.9 292.1 110.0 290.9 111.7 289.9 113.5 289.6 114.4 289.0 116.7 288.4 118.8 288.6 119.4 287.5M49.7 317.3 51.2 317.0 52.7 317.1 53.5 315.6 55.7 316.9 57.1 317.2 58.7 318.1 61.1 316.1 62.8 315.4 65.0 316.2 67.4 316.8 68.6 316.4 71.1 315.8 72.6 316.0 74.3 315.5 76.4 314.4 78.4 314.5 79.8 313.6 81.5 313.9 84.1 313.1 85.6 313.6 86.6 313.1 88.0 312.9 89.4 313.1 91.5 313.3 93.4 313.1 94.5 313.9 96.4 312.5 98.2 313.3 99.8 313.2 102.4 313.4 104.3 313.0 105.6 313.4 107.3 313.5 109.3 314.1 111.6 312.9 113.3 311.7 115.1 312.8 116.5 312.2 117.7 312.6 119.7 311.9 121.1 311.9 122.6 312.0 124.5 311.1 125.4 311.3 128.5 311.0 130.2 310.4M49.7 317.3 50.3 318.6 52.3 318.1 53.8 318.8 55.8 318.5 57.6 319.9 59.0 321.1 61.0 320.7 62.5 319.1 65.2 318.6 67.0 318.4 68.5 318.3 71.5 318.6 72.7 318.0 75.0 317.2 76.0 317.4 77.7 318.3 79.6 318.3 81.9 317.8 83.0 317.7 84.7 318.1 86.3 317.3 88.0 318.5 89.5 317.8 92.7 318.4 94.0 318.4 94.9 317.9 96.9 317.7 100.0 318.0 101.8 317.4 102.8 318.0 105.3 317.6 106.8 318.4 108.7 317.9 111.3 317.1 112.8 317.3 114.0 317.9 115.6 317.8 117.4 317.3 119.0 317.9 121.0 317.1 121.9 317.3 124.0 317.3M49.7 317.3 51.6 316.0 54.5 316.9 54.6 316.3 56.3 316.3 57.5 315.7 59.8 315.8 62.3 313.9 64.7 313.5 65.8 313.3 67.3 312.9 69.2 313.2 71.1 313.7 73.0 312.6 74.3 312.4 75.0 311.9 77.5 312.7 80.2 312.4 80.6 313.0 83.0 312.6 85.2 313.0 86.6 311.7 87.8 310.9 89.4 310.6 91.4 309.2 92.4 309.1 95.2 310.1 96.8 308.5 99.0 310.6 100.3 311.0 102.1 310.6 103.4 310.3M49.7 317.3 51.0 318.3 53.2 319.4 55.6 320.8 57.4 321.0 59.8 321.5 60.6 322.3 63.3 321.8 63.8 322.1 64.9 321.3 67.0 323.1 68.7 322.5 70.3 322.4 71.9 322.7 73.7 323.5 75.5 323.6 77.1 324.3 78.2 324.4 80.6 326.1 81.9 325.0 84.2 325.7 86.5 326.4 87.3 325.2 88.8 325.9 89.6 326.9 91.1 327.1 92.3 326.6 94.5 327.5 96.3 327.3 99.3 328.0 101.8 327.3 103.9 327.8 104.2 328.0 105.7 328.5 106.5 329.2 108.8 330.1 110.9 329.2 112.8 330.2 115.8 331.8 116.4 331.3 117.7 332.7 119.6 331.9M49.7 317.3 51.5 317.3 52.1 318.0 54.7 317.3 56.8 318.3 58.1 319.3 60.0 320.2 61.2 321.7 61.8 320.5 63.6 321.0 64.2 321.6 67.6 323.2 67.9 323.5 69.8 324.1 71.3 325.3 72.9 325.2 75.2 325.3 76.8 325.7 78.7 326.6 81.3 327.1 82.8 328.6 84.6 328.2 85.9 328.6 86.8 329.7 89.1 329.0 90.8 330.5 92.5 331.4 94.2 330.1 96.2 330.7 98.5 331.3 100.1 331.4 101.8 332.7 103.6 332.2 103.8 334.1 105.3 332.9 107.3 332.8 109.5 332.8 110.9 333.8 112.9 333.8 114.9 334.1 116.1 333.9 118.1 334.0 118.3 334.2 119.1 334.9 121.2 335.5 123.3 336.3 125.6 336.5 127.0 338.4 128.6 337.9 130.2 337.8 132.0 338.6 134.7 337.7 136.2 338.3 138.4 339.6 139.3 339.0M49.7 317.3 51.1 319.3 52.2 321.1 54.2 323.8 56.5 323.8 58.8 325.4 59.6 326.4 60.6 325.5 62.0 326.8 64.1 327.3 66.7 328.8 68.5 329.2 69.0 329.7 69.7 329.3 71.1 329.7 73.6 331.1 74.4 331.7 75.4 331.8 77.3 333.1 78.7 333.3 79.6 333.0 81.2 334.3 82.7 334.1 85.2 334.5 87.3 335.6 89.7 336.2 91.0 336.8 92.7 337.6 93.7 339.4 96.3 340.5 96.0 341.0 98.8 340.3 99.7 340.7 101.1 342.5 102.5 342.4 104.7 343.5 104.8 344.5 106.9 344.4 108.7 344.4 110.1 345.6 112.0 345.4 113.8 344.9 114.6 347.0 115.3 345.8 116.8 346.2 118.9 346.5 122.6 347.6 123.5 348.5 124.9 348.6 125.7 348.3 128.0 348.8 129.3 349.7 129.8 349.9 131.1 350.9M49.7 317.3 51.2 320.1 54.0 322.6 55.9 324.6 57.3 325.6 57.9 326.3 60.5 327.7 61.8 329.6 64.0 330.4 64.2 330.7 64.7 332.1 65.2 331.9 68.4 333.3 69.3 334.3 70.4 334.5 72.7 335.8 74.0 337.2 76.0 337.3 76.5 336.7 77.8 336.7 79.8 336.8 80.6 338.1 82.3 339.3 84.5 340.6 86.2 340.4 86.1 341.9 87.2 342.8 89.2 343.4 90.8 344.1 92.3 344.3 94.2 345.3 95.5 346.2 96.8 347.4 98.8 347.0 100.0 347.8 101.1 348.6 101.8 347.8 105.5 349.3 105.8 349.4 107.5 350.9 107.7 350.7 108.4 350.3 110.3 351.1 112.2 352.2 113.9 352.9 116.3 353.4 117.6 354.1 118.6 354.9 120.2 354.0 122.4 354.7 124.6 354.8 125.6 355.7M49.7 317.3 50.7 321.4 51.2 321.6 52.8 323.0 54.3 324.9 55.9 325.5 56.9 326.6 58.9 328.3 60.1 329.8 61.7 330.9 63.6 332.2 65.7 333.0 66.1 334.3 67.9 335.3 70.2 335.0 71.5 336.8 72.6 337.8 72.9 338.0 75.7 339.0 77.2 338.7 77.7 339.9 79.2 340.4 79.9 341.1 81.5 341.3 82.1 342.7 83.7 343.6 85.9 344.6 88.9 345.5 90.2 345.3 91.6 346.2 92.0 347.0 93.6 347.5 95.1 347.7 95.7 349.1 98.0 349.8 98.2 349.1 99.3 350.6 101.5 351.8 102.4 351.5 103.5 350.6 105.2 350.2 106.8 351.8 107.9 353.2 109.2 354.1 111.3 355.6 112.1 357.3 114.5 357.2 115.7 357.4 117.5 357.5 119.1 358.1 120.0 358.6M49.7 317.3 49.6 321.7 51.1 323.2 52.5 323.5 54.4 324.3 54.9 324.8 55.3 326.8 57.2 328.6 58.3 330.2 60.5 333.0 62.4 333.0 63.4 333.7 64.2 334.3 67.7 336.4 69.4 337.5 69.8 338.6 70.6 340.1 71.0 339.5 72.5 340.1 74.0 340.8 74.5 342.4 76.5 342.5 77.2 343.8 78.1 344.1 80.0 344.9 81.1 345.5 82.7 346.7 84.3 347.7 86.1 347.8 86.8 348.1 88.1 349.3 88.9 350.9 89.8 350.8 92.1 351.6 93.4 351.8 95.1 352.0 96.8 352.2 97.3 352.8 97.2 353.7 98.9 354.0 100.3 354.3 102.6 355.7 103.4 356.1M49.7 317.3 51.4 320.2 52.8 320.9 54.2 322.2 54.7 323.5 55.5 326.0 56.1 327.0 56.8 328.7 57.8 329.8 58.8 330.8 59.9 331.2 60.9 332.2 61.1 335.4 62.1 335.4 63.1 336.7 63.7 336.9 64.8 337.9 66.8 338.7 69.0 340.0 70.0 340.6 70.1 341.8 70.6 343.6 71.8 344.9 73.7 346.0 74.0 346.6 74.6 347.3 75.3 349.0 75.1 350.3 77.6 350.4 78.7 351.4 79.6 351.9 79.8 353.2 80.7 353.1 81.5 353.5 82.7 353.1 84.0 354.9M49.7 317.3 51.9 320.7 53.9 321.0 55.0 322.9 55.6 323.6 57.2 325.1 57.8 325.5 59.7 327.3 61.6 329.4 62.7 331.3 64.0 332.4 65.1 333.7 65.6 334.0 65.6 335.2 66.3 335.8 67.3 337.2 68.6 337.5 69.4 338.8 70.8 340.2 71.9 341.2 73.5 342.9 75.0 344.1 76.3 343.0 77.0 344.1 78.3 344.5 79.4 346.7 79.9 347.1 81.8 347.2 82.9 347.8 83.8 348.0 85.4 349.7 87.0 349.5 87.8 351.5 88.7 353.0 90.3 353.2 91.6 353.7 93.7 354.6 94.0 356.7 95.6 357.2M49.7 317.3 51.5 314.8 52.4 312.7 54.0 310.5 55.4 310.8 57.8 310.4 58.7 308.7 59.8 306.1 61.8 305.5 63.3 303.9 65.5 304.5 67.8 305.3 68.8 304.4 70.5 304.4 72.9 302.8 73.6 302.2 74.8 302.1 77.1 301.6 78.5 301.0 79.3 299.9 80.7 298.9 82.3 299.2 85.0 298.9 86.1 298.9 88.1 297.3 89.9 297.5 90.7 297.7 92.3 297.1 93.6 295.9 94.9 296.3 97.1 295.6 98.6 294.8 99.5 293.7 102.7 292.7 104.1 292.0 105.6 291.8 106.9 292.2 108.8 293.5 110.1 292.0 110.0 291.8 112.8 291.6 114.6 290.7M49.7 317.3 50.9 316.8 53.0 316.7 54.7 315.3 54.8 314.4 57.6 313.9 59.4 313.5 61.3 312.7 62.4 311.3 63.6 310.5 65.2 310.3 67.4 309.4 68.4 308.8 69.5 307.4 71.8 305.9 73.3 305.7 74.6 306.3 76.5 305.7 78.9 305.6 81.0 304.6 81.9 304.6 83.0 303.2 84.5 302.7 86.9 303.0 88.1 302.6 89.4 303.2 90.7 302.4 92.8 300.9 93.5 300.6 95.0 299.9 97.5 299.9 100.2 300.1M49.7 317.3 50.5 312.9 52.2 310.5 53.3 310.1 54.4 309.2 55.5 308.3 56.6 307.1 58.0 306.0 59.0 304.7 61.3 303.1 62.6 302.9 63.6 302.4 65.0 301.5 65.8 300.1 66.9 299.8 68.6 298.5 71.6 298.2 72.7 297.9 74.0 297.3 76.8 297.3 77.6 296.9 78.8 296.3 80.2 296.0 82.5 294.9 82.2 293.8 83.3 294.0 85.0 293.6 86.8 293.2 88.5 292.3 89.7 291.7 90.6 291.4 92.1 290.4 93.1 288.7M49.7 317.3 52.3 321.0 54.1 323.5 56.7 325.5 57.9 327.0 60.4 327.1 60.6 328.5 62.2 329.6 63.3 330.9 64.7 331.9 66.3 330.6 67.1 330.4 68.4 331.9 69.2 333.1 70.5 333.0 72.5 334.0 73.1 334.7 75.6 335.1 76.8 337.0 77.9 336.9 78.8 336.5 80.2 337.9 81.6 338.4 83.9 339.3 84.4 339.7 86.5 339.2 87.5 339.1 89.6 339.9 90.7 341.4 91.9 341.4 93.8 341.5 96.4 342.4 97.6 342.0 98.1 343.4 99.6 344.4 101.4 345.4 103.6 346.5 104.4 347.6 105.1 347.0 107.3 347.3 109.3 347.2 110.3 347.7M49.7 317.3 51.2 318.1 53.2 317.9 55.1 318.1 56.0 319.2 56.7 320.0 60.0 320.7 61.4 321.6 62.9 323.5 63.9 324.5 65.5 326.0 67.0 327.3 67.8 328.4 69.2 328.1 71.9 328.3 73.2 329.4 73.9 330.2 76.7 329.9 78.3 330.7 79.7 331.0 81.2 331.4 82.3 332.1 83.8 332.1 84.8 332.1 86.7 333.4 88.5 334.0 90.1 334.3 91.5 336.0 93.7 336.2 96.1 336.2 96.2 335.9 97.6 336.3 100.7 336.4 101.3 337.4 102.0 337.7 104.3 339.0 106.2 338.8" stroke="#111" stroke-opacity="0.72" stroke-width="0.55" fill="none" stroke-linejoin="round"/>
<rect x="38.90" y="275.00" width="108.40" height="84.60" fill="none" stroke="#111" stroke-width="1.5"/>
<line x1="35.30" y1="359.60" x2="38.90" y2="359.60" stroke="#111" stroke-width="1.3"/>
<text x="31.80" y="361.76" font-size="6.0" text-anchor="end" textLength="11.54" lengthAdjust="spacingAndGlyphs" fill="#111">-250</text>
<line x1="35.30" y1="351.14" x2="38.90" y2="351.14" stroke="#111" stroke-width="1.3"/>
<text x="31.80" y="353.30" font-size="6.0" text-anchor="end" textLength="11.54" lengthAdjust="spacingAndGlyphs" fill="#111">-200</text>
<line x1="35.30" y1="342.68" x2="38.90" y2="342.68" stroke="#111" stroke-width="1.3"/>
<text x="31.80" y="344.84" font-size="6.0" text-anchor="end" textLength="11.54" lengthAdjust="spacingAndGlyphs" fill="#111">-150</text>
<line x1="35.30" y1="334.22" x2="38.90" y2="334.22" stroke="#111" stroke-width="1.3"/>
<text x="31.80" y="336.38" font-size="6.0" text-anchor="end" textLength="11.54" lengthAdjust="spacingAndGlyphs" fill="#111">-100</text>
<line x1="35.30" y1="325.76" x2="38.90" y2="325.76" stroke="#111" stroke-width="1.3"/>
<text x="31.80" y="327.92" font-size="6.0" text-anchor="end" textLength="8.29" lengthAdjust="spacingAndGlyphs" fill="#111">-50</text>
<line x1="35.30" y1="317.30" x2="38.90" y2="317.30" stroke="#111" stroke-width="1.3"/>
<text x="31.80" y="319.46" font-size="6.0" text-anchor="end" textLength="3.25" lengthAdjust="spacingAndGlyphs" fill="#111">0</text>
<line x1="35.30" y1="308.84" x2="38.90" y2="308.84" stroke="#111" stroke-width="1.3"/>
<text x="31.80" y="311.00" font-size="6.0" text-anchor="end" textLength="6.50" lengthAdjust="spacingAndGlyphs" fill="#111">50</text>
<line x1="35.30" y1="300.38" x2="38.90" y2="300.38" stroke="#111" stroke-width="1.3"/>
<text x="31.80" y="302.54" font-size="6.0" text-anchor="end" textLength="9.75" lengthAdjust="spacingAndGlyphs" fill="#111">100</text>
<line x1="35.30" y1="291.92" x2="38.90" y2="291.92" stroke="#111" stroke-width="1.3"/>
<text x="31.80" y="294.08" font-size="6.0" text-anchor="end" textLength="9.75" lengthAdjust="spacingAndGlyphs" fill="#111">150</text>
<line x1="35.30" y1="283.46" x2="38.90" y2="283.46" stroke="#111" stroke-width="1.3"/>
<text x="31.80" y="285.62" font-size="6.0" text-anchor="end" textLength="9.75" lengthAdjust="spacingAndGlyphs" fill="#111">200</text>
<line x1="35.30" y1="275.00" x2="38.90" y2="275.00" stroke="#111" stroke-width="1.3"/>
<text x="31.80" y="277.16" font-size="6.0" text-anchor="end" textLength="9.75" lengthAdjust="spacingAndGlyphs" fill="#111">250</text>
<line x1="38.90" y1="359.60" x2="38.90" y2="362.90" stroke="#111" stroke-width="1.3"/>
<text x="40.90" y="370.60" font-size="6.0" text-anchor="end" textLength="8.29" lengthAdjust="spacingAndGlyphs" transform="rotate(-45 40.90 370.60)" fill="#111">-50</text>
<line x1="49.74" y1="359.60" x2="49.74" y2="362.90" stroke="#111" stroke-width="1.3"/>
<text x="51.74" y="370.60" font-size="6.0" text-anchor="end" textLength="3.25" lengthAdjust="spacingAndGlyphs" transform="rotate(-45 51.74 370.60)" fill="#111">0</text>
<line x1="60.58" y1="359.60" x2="60.58" y2="362.90" stroke="#111" stroke-width="1.3"/>
<text x="62.58" y="370.60" font-size="6.0" text-anchor="end" textLength="6.50" lengthAdjust="spacingAndGlyphs" transform="rotate(-45 62.58 370.60)" fill="#111">50</text>
<line x1="71.42" y1="359.60" x2="71.42" y2="362.90" stroke="#111" stroke-width="1.3"/>
<text x="73.42" y="370.60" font-size="6.0" text-anchor="end" textLength="9.75" lengthAdjust="spacingAndGlyphs" transform="rotate(-45 73.42 370.60)" fill="#111">100</text>
<line x1="82.26" y1="359.60" x2="82.26" y2="362.90" stroke="#111" stroke-width="1.3"/>
<text x="84.26" y="370.60" font-size="6.0" text-anchor="end" textLength="9.75" lengthAdjust="spacingAndGlyphs" transform="rotate(-45 84.26 370.60)" fill="#111">150</text>
<line x1="93.10" y1="359.60" x2="93.10" y2="362.90" stroke="#111" stroke-width="1.3"/>
<text x="95.10" y="370.60" font-size="6.0" text-anchor="end" textLength="9.75" lengthAdjust="spacingAndGlyphs" transform="rotate(-45 95.10 370.60)" fill="#111">200</text>
<line x1="103.94" y1="359.60" x2="103.94" y2="362.90" stroke="#111" stroke-width="1.3"/>
<text x="105.94" y="370.60" font-size="6.0" text-anchor="end" textLength="9.75" lengthAdjust="spacingAndGlyphs" transform="rotate(-45 105.94 370.60)" fill="#111">250</text>
<line x1="114.78" y1="359.60" x2="114.78" y2="362.90" stroke="#111" stroke-width="1.3"/>
<text x="116.78" y="370.60" font-size="6.0" text-anchor="end" textLength="9.75" lengthAdjust="spacingAndGlyphs" transform="rotate(-45 116.78 370.60)" fill="#111">300</text>
<line x1="125.62" y1="359.60" x2="125.62" y2="362.90" stroke="#111" stroke-width="1.3"/>
<text x="127.62" y="370.60" font-size="6.0" text-anchor="end" textLength="9.75" lengthAdjust="spacingAndGlyphs" transform="rotate(-45 127.62 370.60)" fill="#111">350</text>
<line x1="136.46" y1="359.60" x2="136.46" y2="362.90" stroke="#111" stroke-width="1.3"/>
<text x="138.46" y="370.60" font-size="6.0" text-anchor="end" textLength="9.75" lengthAdjust="spacingAndGlyphs" transform="rotate(-45 138.46 370.60)" fill="#111">400</text>
<line x1="147.30" y1="359.60" x2="147.30" y2="362.90" stroke="#111" stroke-width="1.3"/>
<text x="149.30" y="370.60" font-size="6.0" text-anchor="end" textLength="9.75" lengthAdjust="spacingAndGlyphs" transform="rotate(-45 149.30 370.60)" fill="#111">450</text>
<text x="86.30" y="391.80" font-size="11.3" textLength="14.50" lengthAdjust="spacingAndGlyphs" fill="#111">WT</text>
<path d="M192.83 274.00V360.80M204.06 274.00V360.80M215.29 274.00V360.80M226.52 274.00V360.80M237.75 274.00V360.80M248.98 274.00V360.80M260.21 274.00V360.80M271.44 274.00V360.80M282.67 274.00V360.80M293.90 274.00V360.80M181.60 351.16H293.90M181.60 341.51H293.90M181.60 331.87H293.90M181.60 322.22H293.90M181.60 312.58H293.90M181.60 302.93H293.90M181.60 293.29H293.90M181.60 283.64H293.90" stroke="#e2e2e2" stroke-width="0.5" fill="none"/>
<path d="M192.8 312.6 192.7 312.2 195.1 312.5 196.7 312.2 199.7 313.0 202.1 312.8 204.2 313.2 206.4 313.5 208.5 313.9 210.6 313.1 210.9 312.4 212.9 312.5 214.3 311.7M192.8 312.6 193.9 316.1 195.9 311.3 196.9 309.7 199.1 310.2 201.1 310.0M192.8 312.6 194.5 312.2 194.1 311.7 195.6 310.9 196.8 309.9 197.9 308.5M192.8 312.6 192.7 309.4 194.0 306.4 193.7 304.7 194.3 304.9 194.3 302.4M192.8 312.6 193.0 311.6 194.0 309.6 196.1 307.0 196.6 306.2 196.5 304.7 197.2 301.1 198.0 300.9 199.6 299.8 199.6 297.8 200.4 297.9M192.8 312.6 192.3 312.9 191.8 315.2 189.8 317.4 189.4 316.4 189.5 315.8M192.8 312.6 195.8 314.4 194.5 314.3 194.6 314.9 194.3 315.1 195.7 315.7M192.8 312.6 194.8 312.6 196.1 310.8 197.0 309.1 197.5 307.8 199.5 305.3 200.5 303.9 202.2 303.0 202.4 302.0M192.8 312.6 193.9 309.4 194.7 309.6 197.7 310.8 200.2 310.1 201.6 310.0 202.7 309.6 206.5 308.8M192.8 312.6 193.3 311.7 193.6 309.5 194.3 307.2 194.4 304.9 195.4 303.2 196.2 302.9 197.7 301.8 198.1 300.9 198.8 299.5 199.5 297.6 199.6 297.2 200.6 294.8 201.6 294.3M192.8 312.6 195.1 314.0 195.6 315.7 197.7 317.2 198.1 318.1 199.8 320.1M192.8 312.6 193.9 313.0 194.8 313.0 198.2 314.5 199.7 316.5 202.0 316.8 203.1 316.4 205.3 316.8 205.9 317.7 208.3 319.2 210.7 318.5 212.8 319.7M192.8 312.6 193.4 309.9 195.2 311.1 195.2 312.3 196.2 310.0 196.3 310.5M192.8 312.6 194.5 313.2 196.2 311.9 197.8 312.3 200.8 312.2 203.3 312.2 204.0 313.7 205.5 314.6 209.1 316.3 210.8 317.1 213.0 315.9 214.0 314.7 215.7 314.6M192.8 312.6 194.6 311.5 196.4 309.5 199.3 308.6 200.1 308.1 201.1 308.1M192.8 312.6 192.9 312.8 195.0 314.1 196.8 315.6 197.4 317.3 198.1 318.6 199.0 320.1 200.4 321.3M192.8 312.6 193.8 314.7 193.7 314.4 193.6 315.7 194.5 317.1 193.3 316.6M192.8 312.6 194.4 316.5 194.4 318.5 194.4 317.9 195.0 318.3 196.8 319.4 198.2 322.2 199.5 323.7 200.9 324.7 201.9 325.2M192.8 312.6 193.6 310.7 194.5 310.7 194.5 310.2 194.9 309.0 195.6 308.5M192.8 312.6 195.6 316.2 193.7 313.6 195.5 312.7 195.6 314.1 198.1 313.6M192.8 312.6 195.3 310.2 196.0 309.6 197.5 308.4 200.0 308.3 200.8 306.6M192.8 312.6 195.6 313.4 196.5 313.6 199.7 315.3 200.5 315.7 201.6 314.9 203.6 316.4 205.5 317.8 206.7 318.2 209.8 320.4 211.3 319.4 213.0 318.6M192.8 312.6 192.9 312.2 193.1 312.5 192.4 312.0 191.5 312.7 191.0 311.4M192.8 312.6 194.6 313.5 196.4 314.9 197.5 316.8 198.8 316.3 201.5 317.6M192.8 312.6 194.8 311.4 195.4 311.0 197.8 309.8 197.6 309.8 198.4 309.9M192.8 312.6 194.1 312.5 196.1 313.4 198.1 314.5 200.2 313.7 202.5 313.0 204.2 314.2 204.9 314.7 206.0 314.4 208.0 315.4 209.6 316.5 211.5 316.1 214.0 317.6M192.8 312.6 191.7 311.7 195.2 310.5 196.3 309.8 197.0 309.1 197.2 307.7M192.8 312.6 194.7 312.3 195.8 308.3 196.9 308.0 197.6 308.1 198.2 308.0M192.8 312.6 194.7 310.6 194.5 309.8 195.5 307.6 197.6 306.3 197.5 306.2M192.8 312.6 195.3 312.5 197.5 311.1 198.7 311.6 200.6 310.2 203.6 309.6 205.5 309.3M192.8 312.6 193.9 311.2 193.2 311.6 192.3 310.5 192.1 310.0 190.7 309.4M192.8 312.6 193.8 310.2 195.8 308.8 196.9 307.9 197.7 306.4 198.9 305.4 202.3 304.0 203.0 304.5 203.9 302.8 204.5 302.2M192.8 312.6 190.8 310.4 194.6 310.9 195.5 310.3 195.6 310.2 195.5 308.9M192.8 312.6 195.5 312.0 195.5 309.3 195.5 306.1 197.3 304.8 199.0 303.4 200.5 302.6 201.8 301.3 202.7 300.3 204.8 300.1M192.8 312.6 193.8 313.8 193.9 314.2 194.7 314.3 195.7 314.0 195.3 313.5M192.8 312.6 193.2 315.1 194.7 315.6 195.3 317.8 196.0 318.4 196.4 318.3M192.8 312.6 195.4 311.6 194.5 315.1 195.4 316.5 197.0 318.1 198.0 319.8 198.8 320.7M192.8 312.6 194.0 312.4 195.8 312.5 198.4 310.8 200.0 309.0 201.4 308.3 203.7 308.5 205.4 307.4 207.4 307.0 210.0 306.6M192.8 312.6 191.6 314.0 192.5 314.7 192.8 313.5 192.1 315.4 192.7 315.5M192.8 312.6 192.6 312.0 194.2 310.9 194.4 309.9 195.0 309.4 195.1 308.9M192.8 312.6 195.4 309.7 196.1 309.9 198.5 308.6 200.0 309.0 201.8 308.2M192.8 312.6 194.5 311.1 197.6 311.3 198.6 311.4 200.3 310.5 202.9 310.1M192.8 312.6 195.3 311.7 197.3 310.8 197.2 311.1 198.1 308.9 201.1 308.8 202.0 308.7 203.2 307.2 204.9 305.2 207.2 305.4 208.9 304.9 210.9 303.5M192.8 312.6 194.5 310.8 196.1 309.3 197.5 309.7 200.2 309.7 201.2 308.7 201.9 308.0 203.1 307.7 204.2 307.5 207.1 306.7 208.2 304.6 209.9 303.3 211.7 304.2M192.8 312.6 196.2 310.6 197.1 309.7 197.6 308.1 197.9 307.7 199.5 306.0 200.8 304.7 201.9 303.9 203.7 303.0 205.8 301.5 207.4 300.4 208.5 300.6 210.3 298.5M192.8 312.6 194.8 313.1 196.7 314.8 198.1 315.7 199.8 316.8 201.1 316.0 203.7 317.9 204.8 318.5 206.5 319.7M192.8 312.6 195.5 313.2 195.9 311.3 196.9 309.2 197.0 309.0 199.1 307.7 200.3 307.1 201.4 306.2M192.8 312.6 198.1 314.8 199.7 315.6 198.9 314.2 200.0 315.0 201.5 315.8 202.4 316.8 204.0 317.1 206.3 319.1 207.9 318.6 208.9 320.0M192.8 312.6 194.5 312.8 194.6 312.1 195.6 310.9 196.9 310.4 197.3 309.7M192.8 312.6 193.8 311.4 195.1 311.3 196.8 309.7 198.0 309.0 199.8 308.7M192.8 312.6 195.9 313.3 195.4 313.1 198.0 311.6 199.6 312.3 202.2 313.6 205.1 313.4 206.4 314.5 208.2 312.8M192.8 312.6 194.7 317.5 193.5 316.7 194.8 318.2 195.7 319.6 195.7 320.3M192.8 312.6 193.9 313.3 194.7 314.5 194.6 316.6 196.5 319.9 196.9 320.4 198.8 322.7 200.1 323.6 201.6 324.9 202.2 326.4 203.2 327.3 203.7 328.6 204.4 329.1 205.0 331.4M192.8 312.6 192.6 309.0 195.4 309.7 196.8 308.1 197.7 307.5 198.7 307.1 199.6 306.0M192.8 312.6 194.9 312.2 197.2 313.6 198.6 314.1 199.2 315.4 202.1 314.6M192.8 312.6 195.2 310.4 195.3 311.7 197.9 313.7 199.7 315.5 201.4 315.2 203.8 316.6 205.6 316.8 207.6 317.7M192.8 312.6 194.0 314.0 196.0 313.8 199.1 314.2 200.5 313.6 203.8 312.4M192.8 312.6 193.2 312.0 194.4 308.6 195.1 307.8 196.4 306.5 197.2 305.9M192.8 312.6 193.3 315.0 193.9 314.4 195.9 316.0 197.5 318.6 198.2 317.6M192.8 312.6 196.6 309.9 197.0 313.8 200.0 314.2 201.7 314.7 203.6 314.4M192.8 312.6 195.0 313.2 194.3 312.1 195.9 313.0 196.9 312.2 198.7 312.4M192.8 312.6 193.7 315.0 194.9 318.5 193.8 319.7 194.7 320.6 195.2 321.6 196.5 322.8 197.7 325.2 198.2 325.9 197.5 326.2 197.3 328.8 199.9 328.9M192.8 312.6 194.7 310.9 195.1 311.1 195.4 310.9 195.8 310.3 196.3 310.7M192.8 312.6 192.4 316.5 192.2 319.8 193.3 320.7 195.2 321.9 195.4 322.5 196.7 324.0 196.7 326.0 196.7 326.3 197.6 326.8 196.9 327.8 197.1 328.9 196.5 330.5 197.2 330.9M192.8 312.6 192.0 311.1 191.1 313.2 190.3 315.7 190.3 317.2 189.6 319.1M192.8 312.6 193.8 311.6 194.2 310.5 196.5 309.3 198.7 309.8 200.4 309.3 202.8 309.2 204.1 308.3 206.5 309.1 207.5 308.6 210.4 306.8 212.3 305.9M192.8 312.6 192.5 313.9 195.3 316.7 197.6 318.3 197.7 318.9 198.2 319.7 199.1 321.4 202.0 322.3 203.2 322.8M192.8 312.6 194.8 317.0 196.9 314.3 198.0 313.5 200.5 311.6 202.6 312.0M192.8 312.6 195.0 313.2 197.0 313.1 197.2 315.8 198.7 315.4 200.3 317.8 202.4 317.8 205.0 318.5 207.2 319.8 208.5 320.2 208.7 321.0M192.8 312.6 195.8 309.0 196.5 309.3 198.2 308.5 199.2 308.0 201.0 307.7 202.6 306.6M192.8 312.6 193.1 313.7 194.3 315.1 195.2 317.1 196.4 319.3 196.1 320.6 197.8 323.5 198.1 324.4 199.2 324.5 199.5 327.2 200.4 327.6 201.1 329.0 201.0 328.7 201.0 331.8 202.6 332.9M192.8 312.6 196.3 311.5 196.6 312.1 197.6 314.2 200.2 314.7 200.6 314.8M192.8 312.6 194.1 312.3 195.4 311.2 197.3 311.4 199.3 311.3 202.7 310.9 205.1 310.7 206.0 311.0 208.0 310.7 209.5 310.2 211.1 310.3 213.2 311.1M192.8 312.6 195.8 313.2 196.2 314.6 197.0 313.9 199.0 313.8 200.6 314.9 202.6 314.3 203.9 314.9 206.6 315.1 208.6 314.9M192.8 312.6 194.9 312.9 195.9 310.2 198.4 307.0 199.5 306.9 200.0 304.7 201.5 305.1 203.6 303.5 205.3 302.2 204.9 301.8M192.8 312.6 194.6 311.8 195.1 310.3 195.9 309.5 196.1 309.5 197.6 307.2 198.8 306.0 199.8 304.6 200.2 302.3 201.7 300.2 202.7 299.1 204.5 296.8 204.8 296.5 206.0 294.7 206.3 291.8M192.8 312.6 192.5 311.7 195.2 310.1 198.1 308.0 199.5 307.2 200.6 306.1M192.8 312.6 191.9 315.8 193.6 312.7 195.9 312.7 197.3 312.7 198.4 313.0M192.8 312.6 194.4 309.6 195.3 308.4 197.4 308.5 198.5 307.9 200.9 307.0 202.4 306.6 203.9 304.5M192.8 312.6 193.9 316.0 193.3 317.6 193.5 319.1 193.4 321.5 195.4 323.3 195.9 324.4 196.8 325.9 197.3 325.6 199.1 326.9 198.8 328.8 199.5 329.5 201.2 331.1M192.8 312.6 194.8 314.2 196.9 313.8 198.4 314.8 200.3 316.2 203.2 317.1 204.3 317.4 206.8 317.3 207.9 315.6 209.4 316.5 211.1 316.5 212.5 316.9 214.3 316.5 216.7 316.4 218.4 316.4 220.1 316.2 222.2 317.3 224.6 318.8 225.5 319.3 227.3 320.0 228.5 320.9 230.7 320.8 233.9 319.7 234.7 318.7 236.6 318.4 237.7 318.2 240.4 319.3 241.7 320.0 243.8 318.5M192.8 312.6 194.9 316.3 197.2 317.8 198.8 318.9 201.1 320.0 202.7 321.2 203.8 322.6 205.7 323.6 207.4 325.2 208.4 327.5 208.6 328.6 209.1 329.6 210.1 330.4 211.4 331.1 213.0 332.4 214.4 332.9 215.4 333.3 218.1 334.1 219.8 334.3 220.7 334.2 223.8 336.0 226.0 337.1 227.5 338.8 228.8 338.7 228.8 339.6 229.5 340.4 231.3 340.6 231.3 341.0 233.7 341.3 236.4 343.0 237.8 342.9 239.5 344.0 239.9 344.1M192.8 312.6 194.8 313.0 196.9 315.1 198.7 314.7 199.9 312.6 202.6 311.0 203.8 308.5 204.7 307.7 206.2 308.1 208.2 306.0 210.1 305.6 211.8 304.7 213.6 305.4 215.3 304.0 216.9 303.2 218.6 301.9 220.5 302.0 222.0 301.7 223.6 303.0 225.6 303.4 228.1 302.0M192.8 312.6 193.1 310.1 195.0 308.9 198.8 309.7 200.0 308.7 201.9 309.4 202.9 307.7 204.4 307.2 205.5 307.5 206.7 306.6 209.8 306.0 211.5 305.3 213.6 305.0 215.7 303.1 218.6 303.5 218.9 301.8 221.2 301.0 223.0 301.4 225.0 300.4 227.0 301.2 228.8 301.0 229.8 300.1M192.8 312.6 194.4 315.8 195.3 316.8 196.4 317.5 198.3 318.3 198.7 320.3 200.3 323.0 202.1 324.8 203.5 326.3 204.6 327.1 206.6 328.8 208.1 329.3 208.8 330.7 210.6 333.3 211.0 333.2 212.9 334.3 214.7 333.0 216.0 334.1 217.2 335.7 218.7 336.1 220.3 335.7 221.4 336.6 222.7 336.2 223.0 337.5 224.2 338.4 226.3 339.2 228.1 339.9 228.8 341.0M192.8 312.6 193.1 308.0 194.4 306.6 194.5 304.3 195.2 302.7 197.3 301.8 199.9 301.1 201.4 300.1 201.0 298.9 202.6 297.2 204.0 296.7 205.1 295.8 207.0 294.8 208.9 293.1 209.3 291.6 209.1 291.0 210.2 290.5 212.6 289.7 213.8 288.1 214.6 288.2 216.5 287.0 216.8 286.3 218.7 285.8 219.6 285.0 221.0 284.8M192.8 312.6 194.5 306.4 195.6 305.3 196.1 304.8 197.7 303.5 199.6 301.1 201.1 300.4 203.1 299.0 205.3 299.1 207.8 297.8 208.1 297.3 208.9 296.6 210.3 294.8 211.7 293.5 213.1 290.5 215.2 289.8 215.7 288.2 216.2 288.9 218.8 288.5 221.0 287.2 223.3 285.3 224.4 285.6 225.6 284.1 226.6 285.9 227.5 285.0 228.8 284.2 230.9 284.1 232.3 284.3 232.2 283.6 233.5 282.8 234.9 281.0 237.1 280.1 238.7 279.9 239.6 280.1 241.0 279.8 242.5 278.1 244.5 276.4 245.4 277.7 246.4 275.4M192.8 312.6 195.4 315.3 197.6 317.1 198.0 317.5 198.0 318.6 200.2 319.2 200.5 320.5 201.8 322.1 203.3 322.0 204.6 322.5 206.0 323.7 206.7 324.2 208.9 325.9 209.4 326.5 210.8 326.8M192.8 312.6 193.0 317.4 194.1 320.8 194.0 323.5 195.1 324.6 193.7 325.9 194.7 326.7 196.0 327.7 197.4 327.7 197.9 327.7 198.5 329.7 199.3 331.7 199.7 332.9 200.2 333.1 199.5 333.3M192.8 312.6 195.0 314.0 196.3 315.9 198.4 316.2 199.0 317.7 200.2 317.8 201.8 319.6 204.7 319.7 206.3 320.2 207.6 320.9 209.6 321.2 210.7 321.9 213.4 323.1 213.7 323.6 214.7 322.4 217.0 323.4 218.9 323.2 219.8 324.8 220.6 325.0 222.7 325.1 224.5 327.3 226.0 327.6 227.4 328.3 229.0 329.7 230.7 329.1 232.0 329.9 234.6 331.3 235.4 330.8 238.5 332.0 239.2 332.1 241.0 333.6 242.5 335.7 243.8 336.5M192.8 312.6 192.7 313.0 192.1 315.5 194.2 316.6 196.8 318.5 198.0 320.5 198.7 321.9 198.4 321.5 200.6 321.6 202.6 323.1 204.0 325.9M192.8 312.6 194.0 313.5 195.6 313.7 197.2 311.9 198.3 312.3 200.7 312.3 202.7 313.0 204.5 314.7 206.5 313.3 208.0 313.7 210.9 313.1 213.6 314.4 214.9 313.2 216.4 313.5 217.8 314.4 218.1 315.0 219.5 315.7 221.8 314.5 224.9 314.4 226.8 315.7 229.2 316.2 231.1 315.2 232.9 315.4 234.2 314.8 236.6 314.7 239.5 316.3 240.9 315.8 242.8 315.7 244.7 317.0 246.2 315.9 247.9 316.3 250.1 317.7 252.0 316.2M192.8 312.6 194.2 309.7 194.8 307.8 195.1 305.9 196.0 305.1 198.3 303.6 199.9 301.1 202.2 298.4 202.9 297.1 203.1 296.1 205.5 296.3 206.9 294.9 207.9 294.8 209.9 294.8 210.9 292.9 212.0 291.0 213.9 290.3 215.7 289.4 215.5 289.3 216.8 288.5 216.9 286.3 217.5 287.1 219.6 286.4 222.0 285.6 223.2 284.5 223.8 285.0M192.8 312.6 194.0 311.6 195.3 311.6 197.4 312.3 199.5 313.9 201.2 314.5 203.1 315.2 205.3 316.8 206.5 317.4 209.1 318.6 210.1 319.5 211.7 320.2 213.1 319.7 214.5 320.0 216.0 320.5M192.8 312.6 195.2 314.0 196.7 312.0 198.3 310.2 199.9 308.7 202.4 308.8 203.4 308.7 205.1 308.1 206.3 306.2M192.8 312.6 196.4 309.7 198.5 308.2 200.1 306.8 199.6 304.6 200.0 302.7 200.3 300.4 201.3 299.2 202.6 297.7 203.3 297.2 203.1 297.0 203.8 295.6 205.0 295.4 207.1 293.8 209.2 293.9 210.4 292.4 210.9 292.2 211.4 292.1M192.8 312.6 194.8 313.3 197.8 313.0 198.7 311.9 200.4 312.9 202.0 314.0 204.1 315.4 205.7 315.6 208.3 315.3 210.0 315.1 211.8 315.3 211.8 315.4 213.7 315.3 216.0 316.3 217.4 317.2 219.7 317.3 221.0 317.6 223.3 318.1 225.1 318.4 225.5 318.2 228.0 317.7 230.9 318.6 233.0 318.5 234.7 318.1M192.8 312.6 196.0 312.2 197.3 312.4 199.1 312.5 201.4 310.9 202.1 309.1 203.7 307.9 205.8 307.1 207.2 306.3 207.8 306.8 210.2 305.3 211.1 305.0 213.0 304.9 215.5 303.4 218.5 302.7 220.3 302.7 220.6 302.4 221.9 303.1 224.1 303.7 227.2 302.4 228.9 301.5M192.8 312.6 195.0 314.5 196.8 315.2 198.7 316.8 200.2 317.4 201.9 317.5 203.3 318.0 204.9 317.8 206.5 318.6 207.4 319.8 209.6 319.9 210.5 321.0 212.2 321.8 213.7 322.8 215.5 323.3 217.9 324.4 218.8 324.2 220.9 325.0 221.8 324.8 223.1 324.8M192.8 312.6 194.7 313.4 196.5 315.6 197.6 317.4 199.8 316.7 202.1 318.1 204.9 317.0 205.9 319.3 206.8 318.8 209.8 319.8M192.8 312.6 194.5 317.8 193.9 321.8 195.2 322.7 196.0 324.3 197.5 325.6 198.9 326.8 200.5 326.5 202.9 326.6 206.0 329.2 206.9 329.0 207.9 330.4 209.4 331.5 210.1 332.3 211.6 332.8 213.5 333.4 214.4 332.0 215.6 333.7 217.0 335.3 217.5 335.9 220.1 338.0 220.9 337.9 222.0 338.0 223.5 339.4 224.9 340.2 226.7 342.2 228.2 341.0 229.6 341.3M192.8 312.6 194.0 312.5 195.1 313.1 197.7 311.8 200.5 310.8 202.5 311.0 203.0 310.4 204.8 309.1 206.8 308.5 208.8 307.6 210.8 306.9 212.3 306.5M192.8 312.6 193.3 313.7 194.4 315.5 197.4 315.6 199.2 315.2 201.0 316.2 203.2 314.3 205.0 315.0 207.9 314.8 209.7 313.9 210.9 314.5 213.4 314.7 214.6 315.8 217.9 315.9M192.8 312.6 193.2 305.5 194.1 301.8 195.6 300.0 197.2 298.5 199.5 297.3 201.1 296.0 202.7 295.5 204.8 294.0 205.6 294.2 207.0 293.3 208.1 291.7 210.3 291.6 212.7 292.0 214.5 291.2 216.7 291.4 218.7 290.1 219.8 288.8 220.8 288.7 222.7 288.5 224.5 287.0 225.8 286.7 226.6 287.1 228.9 287.2 230.2 286.2 230.9 286.0 232.1 283.8 234.1 282.8 236.8 282.3 238.7 282.9 239.2 281.7 241.4 282.6 243.2 282.0 244.7 281.0 246.8 281.4 247.6 280.2 248.5 279.8 249.8 280.9 250.9 279.7 252.2 280.5 253.6 279.7 255.6 278.9M192.8 312.6 194.5 312.2 196.3 311.3 199.2 311.1 201.4 309.8 202.1 310.0 203.9 310.2 206.6 310.2 207.1 308.1 208.2 306.4 209.6 305.4 211.4 304.8 214.1 305.8 215.3 306.5 216.6 304.9 218.7 303.8 221.5 303.0 223.5 303.3 224.8 302.9 226.9 301.9 228.6 302.2 230.1 300.9 231.9 299.8 233.2 299.8 235.1 299.7 236.4 299.9 238.3 300.3 239.5 301.2M192.8 312.6 194.6 311.2 196.4 311.4 198.7 310.5 199.8 310.4 202.3 309.9 203.0 308.2 204.2 307.1 207.0 308.2 209.6 307.1 211.7 306.8 213.3 306.7 214.5 306.5 217.0 306.5 219.6 307.3 220.7 307.6 221.1 306.5 222.9 306.2M192.8 312.6 193.2 313.2 194.8 314.3 196.9 315.5 199.0 314.7 201.2 314.4 203.6 314.5 204.8 314.1 206.6 314.4 208.9 315.0 211.4 315.9 213.7 315.4 216.1 314.4 217.7 314.4 219.1 315.6 220.2 316.0 221.5 315.8 223.0 315.5 224.9 315.8 227.2 315.3 228.2 315.7 232.1 315.7 233.7 316.3 235.6 315.1 237.3 315.5 238.7 317.0M192.8 312.6 194.7 320.0 196.4 321.3 198.4 324.4 200.1 325.9 201.3 326.6 202.4 329.6 203.1 330.3 204.2 331.2 205.1 331.9 206.8 333.6 208.2 334.4 210.4 334.8 211.6 335.3 213.6 335.7 215.9 337.1 217.3 337.5 217.9 337.7 219.7 337.9 221.1 339.4 222.4 339.7 224.6 340.3 225.6 339.9 226.7 341.2 228.1 341.4 229.5 343.4 230.5 342.9 231.6 343.0 233.3 344.3 235.2 346.2 235.3 347.2 237.5 347.0 239.4 347.0 240.9 347.4 242.0 346.8 243.9 348.2 245.6 346.9 247.2 348.4 248.8 348.6 249.7 348.3 251.7 349.4M192.8 312.6 194.6 312.8 196.0 313.8 198.0 315.1 199.0 315.8 200.3 316.4 202.3 317.4 203.9 318.8 205.1 319.3 207.1 319.7 208.8 319.7 210.7 320.5 212.3 321.4 214.5 322.6 215.3 322.8 217.4 323.4 219.3 325.0 220.3 325.2 222.1 326.5 224.2 327.9 226.5 328.4 227.5 329.0 228.4 329.0 229.2 329.3 231.5 329.6 233.5 330.9 234.3 331.8 237.1 331.4 237.8 330.4 240.2 330.5 242.6 330.6M192.8 312.6 192.4 309.6 196.6 309.5 198.2 310.7 200.0 310.3 202.6 308.8 204.0 308.6M192.8 312.6 195.6 317.8 197.2 319.6 199.9 322.3 201.4 322.5 202.2 322.3 203.6 323.0 203.9 323.5 204.4 324.1 207.6 325.7 209.7 327.1 210.8 326.9 211.2 327.2 212.4 328.3 214.7 328.7 216.4 329.1 218.1 328.5 219.5 329.5 221.0 329.6 222.7 331.8 224.1 331.5 227.0 332.2 227.8 333.1 229.0 334.3M192.8 312.6 192.5 309.0 193.1 306.0 195.4 303.0 196.5 301.7 199.1 301.4 200.8 300.8 201.7 300.5 201.8 298.9 202.3 298.8 203.3 297.1 205.0 295.1 204.4 293.8 206.2 292.9 206.8 292.8 207.7 292.0 208.7 290.8 210.6 290.2 211.6 289.6M192.8 312.6 194.4 313.0 195.9 314.2 196.9 315.7 198.7 316.3 199.5 317.0 202.1 318.9 204.7 319.7 205.0 321.5M192.8 312.6 194.1 313.7 195.5 315.0 196.6 317.2 198.1 318.2 200.7 319.7 203.1 321.1 204.6 320.0 205.8 320.1 208.4 320.3 210.1 319.8 212.1 320.7 214.4 320.6 216.3 321.6 218.2 321.5 219.8 321.9 221.5 321.9 221.6 320.4 223.1 321.0 225.0 322.2 226.6 322.1 229.1 322.2 229.8 322.5 230.9 321.8 233.4 322.3 235.3 323.5 236.8 323.0 238.6 323.5 240.0 324.8 241.8 325.7M192.8 312.6 194.4 319.0 195.3 321.0 197.3 322.5 198.9 322.8 200.2 325.0 202.7 325.5 204.3 325.4 204.7 326.7 207.2 325.8 207.7 326.8 209.7 327.7 211.7 327.9 212.6 328.2 213.6 328.1 214.6 328.2 217.7 330.6 219.6 332.0 220.4 330.7 222.1 330.9 223.3 331.5 224.6 332.2M192.8 312.6 195.6 313.9 198.0 314.4 199.3 316.1 200.4 316.5 201.9 317.0 202.3 317.3 204.5 317.5 206.5 318.3 208.1 316.5 209.8 316.8 211.6 317.1 213.5 315.9 215.1 315.7 217.2 316.4 220.8 317.2 222.3 319.8 223.7 319.6 225.5 319.2 226.6 320.0 229.1 320.0 230.9 319.5 232.7 319.7 233.8 320.0 234.9 319.0 236.8 318.6 238.8 319.7 241.8 320.2 243.6 321.0 245.2 321.8 246.6 323.2M192.8 312.6 195.3 313.0 197.8 315.5 198.7 316.2 199.3 315.4 201.7 315.6 204.5 315.7 205.6 316.3 206.8 316.7 207.8 317.0 209.6 318.0 211.4 318.5 212.4 318.5 214.5 317.7 216.6 318.0 218.6 319.1 219.7 320.1 221.5 322.1M192.8 312.6 193.5 316.8 193.8 318.6 195.3 320.0 195.7 321.3 197.2 321.9 198.0 325.0 196.8 324.9 198.1 325.5 199.0 327.4 199.8 328.8 201.1 329.4 200.7 331.2M192.8 312.6 195.0 316.1 196.2 318.1 198.7 320.3 200.8 320.2 202.8 320.3 205.3 321.1 205.7 323.4 205.7 323.9 208.0 325.9 209.5 326.8 210.7 327.1 212.3 328.4 214.4 328.6 214.7 328.3 217.6 329.1 220.0 330.7 221.0 329.8 223.2 330.0 225.0 330.9 226.5 330.7 228.2 331.2 229.8 331.6 231.3 333.4 232.8 334.3 233.8 334.2 235.4 335.3 236.6 335.1 238.0 335.2 239.9 335.3 241.2 335.6 243.3 336.9 245.3 337.6 246.9 337.1 248.7 338.2M192.8 312.6 194.1 317.4 193.9 319.7 196.0 322.4 197.0 324.0 197.7 325.7 199.6 327.0 201.1 327.7 203.6 328.1 204.9 329.2 206.6 329.9 207.4 330.0 209.2 332.0 209.7 332.0 210.5 332.1 211.6 332.3 212.3 335.5 213.0 334.9 214.3 336.6 215.7 338.2 217.4 338.8 218.5 340.0 220.8 339.9 222.5 340.0 223.3 340.6 225.4 342.4 227.0 344.9 226.5 346.0 227.3 346.6M192.8 312.6 193.9 309.1 194.7 308.0 196.5 306.4 198.8 304.4 199.2 302.4 200.5 301.7 202.0 301.3 203.8 301.1 205.5 300.2 208.0 298.7 210.9 299.3 211.9 297.5 212.8 297.1 214.9 295.3 216.8 294.8 218.1 294.1 219.6 293.6 220.8 293.4 221.9 293.7 223.3 293.5 224.8 292.9 225.9 291.7 228.2 290.0 228.7 290.7 230.4 290.6 232.6 290.3 234.1 288.8 236.0 289.4 238.4 286.8 240.6 286.7 242.6 286.4 243.5 285.8 245.6 285.4 246.6 286.0 248.0 285.9 249.4 285.9 250.4 285.5M192.8 312.6 194.9 312.4 195.9 313.3 198.1 312.8 200.1 311.0 201.6 309.6 203.7 309.1 205.2 309.0 204.9 308.5 208.3 307.1 211.7 306.6 213.4 306.7 214.1 306.6 216.0 305.2 216.4 304.2 219.0 303.4 219.9 303.0 222.1 303.7M192.8 312.6 193.6 316.8 193.7 318.2 196.3 318.6 197.2 319.4 199.1 320.0 200.1 321.0 201.6 322.9 203.1 324.9 205.6 327.5 207.6 326.5 208.9 328.6 210.6 328.4 211.4 329.2 213.3 329.0 215.0 329.1 216.1 330.6 217.4 332.3 218.6 333.5 221.6 334.5 224.5 333.8 225.6 334.7 226.9 336.0 228.4 336.4 228.5 336.9 230.6 337.3 232.3 337.8 233.4 337.6 235.8 338.6 237.5 339.9 239.4 340.7 240.4 340.1 241.3 340.5 243.4 341.4M192.8 312.6 194.7 313.4 195.6 315.2 196.8 316.7 197.3 317.8 199.1 317.8 199.8 319.8 202.1 320.7 204.1 321.6M192.8 312.6 194.5 308.0 195.4 306.2 197.1 304.4 198.3 302.9 199.6 302.8 201.5 300.8 203.5 300.2 203.6 299.1 204.6 299.7 206.1 299.0 207.5 298.1 209.3 296.3 210.8 294.8 211.6 292.8 211.9 292.4 214.2 292.7 215.6 293.2 216.7 292.2 217.4 292.9 218.8 292.4M192.8 312.6 193.4 307.4 195.7 305.9 196.7 304.8 198.2 304.3 199.4 302.8 200.7 302.4 202.4 302.0 204.6 301.7 207.0 299.9 208.7 298.5 211.1 298.2 212.6 297.9 213.9 297.4 215.5 296.3 218.4 295.5 220.0 295.2 222.0 294.6 222.9 294.3 224.1 294.0 225.6 292.2 227.1 292.7 227.5 292.3 228.9 292.4 231.0 291.5 233.2 290.3 234.3 290.6 235.6 290.9 237.2 290.8 239.6 290.7 242.5 291.2 244.1 291.0 245.0 290.5 246.4 288.9 247.7 288.6 248.8 288.4 250.1 288.0 252.1 286.6M192.8 312.6 193.9 315.1 194.7 317.3 195.8 320.0 198.0 322.1 199.7 323.9 201.1 322.7 203.0 322.6 205.5 322.6 206.6 323.1 208.4 323.3 210.1 323.0 212.2 324.0 215.1 325.8 216.3 326.7 218.8 326.7 220.1 326.9 222.0 327.9 223.4 329.6 224.7 328.9 226.3 329.1 226.4 329.8 227.9 329.5 230.0 330.1 232.3 330.8M192.8 312.6 192.7 312.1 194.4 313.4 196.5 313.6 198.1 312.3 199.0 313.1 201.7 312.5 204.9 312.0 207.4 310.0 208.3 311.1 209.9 310.8 211.3 310.2 213.1 309.2 215.6 308.8 217.6 308.8 218.5 309.1 219.7 308.1 221.5 308.9 223.7 307.2 225.3 306.4 227.7 305.3 229.7 306.6 231.6 307.4 233.2 306.9 234.9 306.4M192.8 312.6 195.9 310.0 196.0 309.9 196.2 308.9 199.0 309.6 201.4 310.3M192.8 312.6 195.1 312.5 197.1 311.8 199.0 311.6 200.6 311.5 201.4 310.5 203.8 311.1 206.2 309.7 207.9 308.7 208.3 308.1 210.1 308.4 211.8 307.0 213.8 307.3 215.2 308.1 217.8 308.3 219.5 307.3 220.7 307.6M192.8 312.6 194.5 314.1 195.8 314.5 197.4 315.0 199.7 316.0 200.9 317.5 203.1 317.7 204.5 318.6 205.2 319.7M192.8 312.6 193.6 318.5 196.3 321.2 196.5 322.6 198.4 324.3 199.2 326.2 201.7 326.8 205.1 329.3 204.0 330.0 204.3 330.8 205.9 330.4 206.1 331.2 208.1 332.2 210.0 332.5 210.5 333.7 211.9 335.6 212.9 335.6 214.4 336.6 217.0 337.0 218.2 338.6 219.6 339.5 220.1 340.4 220.3 340.5 220.9 340.6 222.1 340.6 223.9 341.0 224.7 341.9 226.7 342.8 227.9 344.2M192.8 312.6 192.3 312.4 193.4 313.3 194.1 311.4 196.0 310.8 197.9 310.2 199.9 310.3 203.8 310.6 206.7 310.4 207.9 311.1 209.5 310.5 211.1 309.6 213.5 308.5 215.7 308.9 218.4 308.1 220.3 308.5 222.3 306.3 223.9 305.6 225.0 305.7 226.6 305.4 228.4 305.3 229.6 306.2 231.6 304.1 232.9 304.1 235.7 304.7M192.8 312.6 193.9 313.2 196.0 312.5 197.1 313.6 199.3 312.6 201.3 311.8 202.4 313.2 205.1 313.2 207.2 314.0 210.0 314.1 212.1 315.1 213.5 314.6 215.7 315.9 217.0 316.0 218.7 315.8 220.7 315.1 222.5 315.3 224.7 314.5 226.2 315.6 228.9 315.1 231.4 315.8 232.2 316.1 233.6 317.3 235.7 318.0 235.6 317.5 237.3 317.1 238.9 318.0 240.2 318.6M192.8 312.6 194.8 310.5 197.0 308.5 197.3 308.8 198.4 308.6 200.7 309.1 202.6 310.1 204.7 309.1 206.0 307.7 207.6 307.8 210.7 307.1 212.3 308.2 214.0 307.7 215.6 306.3 217.0 304.8 218.9 304.9 220.5 304.8 223.2 304.6 224.1 305.0 226.6 304.2M192.8 312.6 192.9 317.9 192.8 320.4 193.1 322.9 194.6 323.3 195.9 323.7 197.0 324.7 197.7 327.8 197.2 329.0 199.5 330.0 199.8 330.4 200.4 331.6 201.4 332.1 201.8 333.6 203.6 334.8M192.8 312.6 194.0 314.0 196.3 314.2 197.4 315.4 199.4 316.6 201.0 318.1 202.9 318.5 203.8 318.7 207.3 319.0 208.1 318.7 209.9 319.5 212.4 319.7 214.8 321.2 215.5 321.8 217.0 323.1 218.6 324.3 219.7 324.3 221.5 324.1 222.7 324.2 224.7 324.7 226.4 325.5 229.2 324.8 230.6 324.6 231.4 325.9 232.9 326.2M192.8 312.6 193.5 314.8 196.0 315.3 196.9 314.8 198.7 316.1 200.7 316.6 202.5 316.8 205.1 316.3 206.4 317.1 207.8 318.0 209.8 318.7 212.0 319.7 214.0 319.4 215.4 320.1 217.5 320.8 218.9 320.9 219.2 320.9 221.6 321.1 222.9 322.1 225.4 322.2 226.9 323.2 229.8 323.4 232.1 324.9M192.8 312.6 194.3 310.3 194.6 309.3 195.7 308.5 197.3 307.2 199.5 306.2 201.6 304.9M192.8 312.6 195.5 312.1 197.7 311.4 198.8 310.3 200.8 309.6 202.9 309.1 203.7 308.6 206.3 308.7 206.3 307.9 207.4 306.2 209.4 306.5 211.2 306.5 213.3 305.0 215.6 303.8 217.0 302.8 218.8 303.6 221.1 303.7 222.0 303.9 223.0 304.2 224.1 303.3 225.5 302.3 228.1 301.4 230.2 299.6 231.5 298.1 233.3 298.1 235.3 296.9 236.2 296.2 237.9 296.2 239.3 297.8 242.0 296.3M192.8 312.6 192.0 317.4 193.7 320.1 193.2 321.2 193.9 323.5 195.7 324.0 196.6 324.6 197.8 327.4 198.3 327.3 199.5 329.1 198.7 330.7 199.8 331.4 200.9 332.2 200.6 333.8 201.3 333.7 203.0 335.3M192.8 312.6 194.0 312.2 197.0 311.4 198.6 310.0 200.4 308.8 201.5 308.6 203.5 307.7 204.7 308.4 207.0 306.8 209.0 306.3 209.3 306.0 212.3 305.1 213.8 305.7 214.8 304.0 216.7 303.6 219.1 302.6 220.8 302.4 222.4 301.3 223.9 302.0 225.3 301.6 227.1 300.1 228.6 300.2 230.6 299.4 231.7 298.8 233.5 298.3 234.3 299.5 235.5 299.8 238.3 298.0 239.3 296.4 240.7 296.8 244.2 297.3 246.1 295.9 248.1 295.1 249.5 293.8 250.8 293.8M192.8 312.6 195.0 312.0 197.9 311.9 199.1 312.2 200.3 312.2 201.9 312.0 203.7 311.1 204.9 311.5 207.6 311.7 209.2 311.1 211.2 311.8 213.2 311.0M192.8 312.6 192.3 315.9 192.6 317.7 193.9 318.7 195.3 320.9 196.4 322.4 198.1 323.4 200.2 324.4 202.4 326.4 204.0 327.8 205.6 330.2 206.9 331.3 208.0 331.6 208.0 332.7 210.1 334.9 211.4 335.3 212.2 335.3 214.1 336.3 215.9 336.1 216.9 336.8 218.3 336.9 219.6 338.0 220.5 338.9 222.3 340.3 223.0 342.1 225.4 343.0 225.5 344.0 227.1 344.2M192.8 312.6 193.3 316.9 193.5 316.7 195.0 319.2 197.8 319.3 198.9 322.5 199.7 323.7 201.2 324.9 202.1 326.5 202.3 326.9 204.5 328.1 204.5 327.6 206.0 327.8M192.8 312.6 193.6 309.2 195.7 307.7 196.1 306.4 196.9 304.0 197.7 303.0 198.0 302.0 199.6 300.9 199.7 300.8 199.5 298.8 201.2 297.3M192.8 312.6 195.0 313.9 197.9 315.8 200.8 314.8 202.7 315.7 204.0 317.7 204.5 318.5 205.1 318.0 206.6 321.0 208.3 321.2 209.5 322.1 212.3 322.2 213.5 323.8 214.4 323.2 216.1 324.0 217.4 325.5 217.7 325.1 219.0 326.6 221.5 325.9 223.3 325.6 225.3 328.5 228.0 329.1 230.3 329.0 231.3 329.3 232.1 328.9 234.7 328.4 235.7 328.8 237.9 329.2M192.8 312.6 193.1 316.4 194.2 317.1 195.0 319.0 195.8 320.0 196.6 320.7 199.4 322.6 201.5 325.4 202.9 326.3 204.1 326.3 206.3 327.2 207.4 329.2 208.6 330.7 209.7 331.5 210.8 331.2 211.8 332.6 214.2 333.1 215.7 334.2 217.0 333.7 218.2 334.4 220.1 334.8 221.8 336.6 221.6 337.8 223.3 338.5M192.8 312.6 194.7 311.8 195.2 311.1 197.0 309.7 198.4 308.1 199.5 309.0 201.5 308.8 203.7 308.5 205.0 307.7 206.7 308.4 209.8 308.6 212.6 310.1 214.5 310.9 216.3 310.5 217.2 308.5 219.1 308.4 222.2 308.7 223.7 309.6 225.2 309.7 227.1 308.7 229.2 307.5 231.3 307.7 231.3 307.9 234.0 309.0 236.1 309.0 238.0 308.5 239.9 308.1 242.1 307.6 243.5 306.8 245.6 306.6 248.5 305.5 251.2 306.1 252.6 306.0 253.9 306.2M192.8 312.6 195.9 308.4 197.5 306.4 198.7 305.9 201.4 304.6 202.5 303.6 203.4 302.2 203.6 301.1 205.2 299.6 205.8 298.0 207.6 298.2 210.3 297.8 211.6 295.9 213.0 295.5 215.1 295.2 216.4 294.5 217.5 293.2 219.2 291.8 220.9 292.6 222.5 292.1 223.7 290.7 225.4 291.4 228.0 290.6 228.1 290.0 229.9 290.0 230.9 290.2 232.7 289.3 235.2 288.0 236.5 287.6 238.4 287.7 239.7 286.3 240.5 286.4 242.7 284.2 244.2 282.6 245.8 282.9 246.8 283.7 248.8 283.5 249.7 282.5M192.8 312.6 194.6 317.7 196.1 320.1 197.1 323.3 198.0 322.8 199.0 323.3 200.7 324.8 202.0 325.7 203.5 325.9 204.7 327.0 206.5 327.7 206.6 327.6 208.4 329.2 209.6 330.6 211.0 332.1 212.9 331.9 213.3 332.1 213.9 333.1M192.8 312.6 194.3 319.1 195.4 320.2 196.2 319.8 196.7 320.7 199.4 322.9 200.1 323.5 200.6 325.2 202.1 326.7 204.3 328.9 206.9 328.8 207.8 329.2 209.7 330.7 211.1 330.9 213.5 331.9 213.4 331.9 215.6 334.1 217.0 334.3 218.5 334.4 219.7 334.4 219.9 334.8 221.8 335.6 224.3 335.2 225.4 336.1 226.7 336.8 228.2 338.2 230.8 338.2 232.2 337.7 232.7 338.2 235.5 339.1M192.8 312.6 194.8 308.7 196.0 306.7 196.6 306.2 198.5 305.8 199.8 304.6 200.6 303.2 201.5 302.6 202.2 302.2 204.0 300.4 206.3 300.1 208.2 297.0 210.2 296.0 210.8 295.6 213.7 295.7 214.7 295.1 216.4 293.5 217.1 292.2 217.6 292.2 220.3 292.1 221.7 291.4 224.6 291.0 226.6 288.5 227.6 288.6 229.0 288.6 230.3 288.3 231.0 288.3 233.4 287.5 234.2 285.5 235.9 285.0 237.2 284.3 238.8 283.9 240.5 282.6 242.1 281.2 244.3 281.8 245.1 282.1 246.3 280.7 247.9 280.5 249.7 281.3 251.5 280.2 253.4 279.4 255.3 277.8M192.8 312.6 193.3 310.5 194.6 309.7 195.8 309.5 197.6 309.1 199.8 308.2 201.2 306.8 203.3 305.1M192.8 312.6 194.1 316.6 194.4 318.3 196.2 319.3 197.4 319.0 198.2 320.0 200.3 320.3 200.5 321.7 201.8 321.5 203.7 322.7 205.2 324.0 205.3 324.0M192.8 312.6 194.1 310.7 195.5 309.3 196.7 308.0 197.3 306.4 198.6 305.4 199.9 304.8 202.5 303.7 204.1 304.0 206.5 304.4 208.8 301.8 210.8 301.2 211.7 300.5 213.7 298.9 215.0 298.1 216.4 298.4 217.9 297.9 218.8 297.8 221.7 298.4 223.7 296.8 224.8 296.6 227.0 295.9 228.5 295.1 229.2 293.5 231.3 293.6 233.5 293.7 234.0 292.0 235.4 291.3 238.2 291.4M192.8 312.6 195.0 314.2 196.5 315.0 197.9 315.7 199.4 316.3 201.4 317.5 203.1 316.8 205.0 316.4 206.2 316.7 208.5 319.3 210.3 318.5 212.1 318.8 213.8 319.2 215.0 320.0 215.8 318.7 218.2 319.3 220.8 319.6 222.6 321.4 223.8 320.4 226.1 320.6M192.8 312.6 194.3 314.1 196.3 315.0 197.3 315.9 199.0 314.8 200.8 315.1 202.4 314.7 204.4 313.8 206.3 314.7 208.2 316.3 210.6 315.9 211.5 316.7 213.1 316.6 214.7 315.9 217.8 316.5 219.6 317.2 222.2 317.7 223.2 317.3 224.6 315.3 226.4 316.1 227.8 316.6 229.6 317.2 232.3 317.7 234.3 318.0 236.6 318.4 237.5 318.3 240.1 318.4 241.1 318.4 242.5 318.1 244.1 317.9 246.7 317.8M192.8 312.6 196.4 311.1 198.2 310.4 199.7 310.6 201.5 311.0 203.3 310.7 205.8 309.9 206.4 310.4 207.3 310.5 208.7 310.0 209.9 309.8 212.4 309.7 213.7 309.6 216.3 309.5 219.1 310.0 220.1 308.6 222.6 308.3 223.2 308.0 224.6 308.0 226.5 307.9 228.6 307.2 230.4 308.0 232.3 309.0 234.3 307.9M192.8 312.6 194.3 315.5 194.7 317.4 195.7 317.8 196.6 320.2 197.6 322.8 199.7 325.9 201.4 327.0 203.5 327.8 204.6 329.4 206.4 329.9 206.5 329.6 207.1 331.5 208.2 331.8 209.0 332.9 208.9 332.3 210.0 333.1 211.1 334.6 212.6 335.9 214.4 337.4M192.8 312.6 194.5 312.8 197.0 313.4 198.7 313.7 202.1 314.5 203.2 314.9 204.3 315.8 205.5 315.8 208.0 315.2 208.7 316.9 210.5 318.3 211.8 318.9 213.4 319.9 215.6 320.5 217.4 320.2 219.7 320.3 222.0 320.6 222.6 319.9 226.2 320.2 228.4 320.3 229.2 320.8 230.2 322.1 232.3 322.6 233.6 324.0 235.9 324.1 237.6 324.8 238.8 324.9 239.6 324.2 241.9 324.0 244.5 325.1 246.5 326.3 247.6 325.5 249.2 326.6 251.5 326.8 253.8 328.0 255.2 328.7M192.8 312.6 194.0 315.3 195.1 315.2 197.1 316.8 199.2 318.1 201.7 317.7 203.3 318.6 203.9 318.7 207.1 319.1 208.3 319.1 209.8 320.6 211.5 320.5 212.2 320.3 215.4 321.1 216.7 322.8 218.8 323.2 221.1 322.3 223.2 323.0 223.4 322.7 225.0 324.0 227.5 324.3 228.5 325.2 230.2 325.8 231.4 325.2 233.4 325.6 236.0 324.9 238.0 326.7 239.3 326.8 241.9 328.7 244.4 329.3 245.3 329.8 247.0 330.0 248.3 330.9 250.7 330.6 251.9 329.4M192.8 312.6 194.7 311.2 196.7 309.7 198.9 310.4 201.1 309.7 202.9 308.5 204.3 308.1 206.0 308.5 207.4 308.9 208.9 308.7 209.4 308.9 211.7 309.9 214.3 309.6 216.5 308.5 218.3 309.7 219.1 309.4 220.5 307.6 222.7 309.2 223.5 309.2 224.6 308.5 226.1 307.7 228.7 307.0 230.6 307.6 233.8 308.8 236.2 307.3 237.4 307.4 240.3 306.4 242.8 306.7 243.9 307.0 245.2 306.4 247.5 306.2 248.6 305.9M192.8 312.6 195.2 317.8 196.6 318.8 197.5 319.9 199.4 320.5 201.3 322.7 203.3 324.3 203.2 325.5 204.1 327.0 206.1 327.1 207.7 328.8 209.9 328.8 211.4 329.1 212.4 329.2 213.4 329.1 214.2 331.6 215.4 332.0 217.1 332.3 218.7 332.5 219.8 332.7 221.5 333.9 221.8 334.2 223.8 333.9 225.9 334.5 227.8 335.6M192.8 312.6 193.2 311.9 194.8 314.9 198.2 317.4 200.5 317.9 201.1 319.3 202.7 318.9 204.4 320.0M192.8 312.6 195.3 307.8 197.3 306.1 198.8 304.9 199.7 304.0 199.4 302.8 200.0 301.9 200.8 300.8 202.1 298.2 203.8 296.9 205.4 295.8 206.6 294.8 208.1 294.5 208.8 294.0 209.7 293.0 210.6 292.8 212.0 291.7 213.1 292.1 214.1 290.5 215.2 289.0 216.2 288.9M192.8 312.6 194.9 308.6 196.6 307.4 198.5 307.1 199.3 306.9 200.0 305.3 201.8 303.5 203.9 303.2 204.8 303.0 206.9 302.3 208.7 300.6M192.8 312.6 195.5 317.6 197.0 319.2 198.0 321.8 197.6 321.3 198.3 323.1 199.2 324.4 200.0 325.0 201.2 325.3 203.6 326.1 204.2 326.4 204.0 326.7 204.4 328.7 205.8 330.8M192.8 312.6 194.7 313.0 194.5 311.7 195.8 311.0 198.6 310.1 200.4 310.5 204.3 310.2 205.1 310.8 206.8 309.0 209.2 309.6 210.2 309.7 212.3 309.0 214.6 307.9 215.6 308.9 217.6 308.0 219.3 307.5 221.3 306.5 223.1 306.9 225.4 306.0 226.8 306.2 228.3 306.8 231.8 306.7 233.0 306.4 234.1 306.0 236.0 305.2 237.5 305.9 239.4 304.8 242.1 304.5 243.5 304.7 246.1 304.6 247.2 304.1 248.8 303.6 250.8 302.1 252.8 301.9M192.8 312.6 193.8 309.9 194.9 309.6 196.9 310.9 199.5 312.4 202.4 313.5 203.9 313.2 205.6 313.4 207.1 313.0 208.9 313.4 211.9 313.8 213.3 313.9 215.9 316.1 217.1 316.0M192.8 312.6 195.5 313.5 197.8 315.0 200.3 313.5 201.9 314.1 202.9 316.7 204.7 316.4 206.8 315.9 207.6 316.9 210.0 315.2 211.4 314.8 213.5 314.9 214.5 314.0 215.7 314.6 218.7 314.4 221.1 313.6 222.8 315.3 223.4 316.8 226.0 317.3 227.7 316.5 229.8 316.2 232.3 315.8 234.4 315.9 235.8 315.9 237.7 315.5 238.9 315.4 242.3 317.7 243.9 317.3 245.0 317.5 245.9 317.1 247.4 315.9 249.7 315.2M192.8 312.6 194.8 315.3 196.8 318.8 198.2 318.2 199.7 320.0 201.3 319.1 203.5 318.7 204.1 318.7 206.1 318.9 207.4 319.4 207.7 321.7 210.1 321.2 212.2 322.2 213.6 323.4 215.9 325.3 217.4 324.4 217.8 326.7 219.0 326.8M192.8 312.6 194.9 308.3 195.4 305.5 197.2 304.5 197.8 304.8 199.0 302.2 200.3 301.6 201.6 299.4 203.7 297.2 204.5 295.2 207.1 294.5 208.9 292.9 210.1 293.4 211.5 292.5 212.9 290.1 214.0 290.4 215.9 290.1 216.1 289.4 218.1 290.1 220.2 287.8 220.4 287.3 222.0 286.5 223.4 285.7 224.2 285.7 225.6 284.9 228.2 283.9 228.5 283.5 231.0 281.8 232.9 281.9M192.8 312.6 194.5 312.7 196.6 313.8 198.8 313.9 200.6 313.4 201.8 313.7 203.9 313.9 205.6 314.4 206.5 316.2 208.4 316.2 210.0 316.6 212.1 315.2 214.2 315.1 216.7 315.6 219.0 316.5 220.5 317.6 222.2 316.9 223.4 317.3 225.3 317.6 227.1 317.7 228.4 317.9 231.6 319.1M192.8 312.6 195.0 312.9 197.5 314.0 199.9 314.5 200.6 316.8 202.3 315.7 203.5 317.5 204.1 317.6 204.8 318.1 207.8 319.2 209.2 320.0 212.2 321.4 213.4 321.3 214.9 320.9M192.8 312.6 193.0 318.2 195.0 320.9 195.8 324.1 197.2 325.9 199.9 327.7 199.9 329.1 201.4 328.9 203.0 328.5 204.8 329.7 207.0 330.8 207.9 331.5 209.5 332.3 210.5 334.5 211.4 334.6 213.4 336.3 213.5 335.9 216.1 336.4 215.6 338.4 216.8 339.2 218.6 338.6 220.3 340.0 221.0 340.5 222.6 340.6 223.6 340.6 225.4 341.8 226.6 341.4 228.2 342.8 229.0 343.0 230.5 343.9 231.2 345.0M192.8 312.6 194.3 309.7 196.0 312.7 199.8 312.8 202.3 311.1 204.2 310.6M192.8 312.6 193.9 307.8 195.1 306.8 195.0 305.0 196.1 304.7 197.6 302.6 198.5 300.5 199.6 299.6 199.8 297.7 200.4 297.5 200.9 296.1 202.2 295.4 203.7 295.1 204.9 294.4M192.8 312.6 194.7 311.2 196.0 310.5 198.6 310.8 199.7 311.5 201.5 308.9 203.2 309.2 204.5 308.9 206.7 308.2 209.8 307.7 210.7 308.0 211.6 308.3 212.8 307.3 213.8 306.9 216.4 308.1 219.1 306.7 222.0 306.8 223.9 306.4 226.1 306.2 227.9 306.7 228.7 306.9 230.1 307.1 231.9 306.5 232.8 305.6 235.5 304.7M192.8 312.6 194.8 314.8 197.8 316.4 198.4 316.9 199.1 316.6 200.6 317.2 202.9 318.3 204.0 318.0 205.8 319.7 208.1 320.7 209.9 320.5 211.8 320.4 213.2 320.8M192.8 312.6 192.9 306.5 194.0 303.8 195.7 302.0 197.0 301.0 198.9 299.4 200.2 300.4 201.9 298.2 204.3 297.2 206.4 298.7 207.4 297.2 210.3 295.7 213.1 294.4 213.8 293.7 214.7 292.6 216.6 292.5 219.3 290.7 220.2 289.7 221.4 289.6 222.4 289.4 225.2 287.4 226.4 287.4 228.5 287.5 230.1 287.8 231.5 286.2 233.3 284.5 235.2 284.6 235.4 285.8 236.4 284.8 237.9 281.9 240.0 281.7 241.7 281.8 243.5 280.7 245.1 280.0 247.4 279.9 249.0 279.6 250.9 278.8 252.1 278.0 254.1 278.0 254.4 276.7 256.1 276.5 257.8 277.0 258.6 276.8 260.2 276.2 261.8 276.1 264.0 275.8 265.2 275.2M192.8 312.6 193.8 309.8 195.3 309.7 196.4 308.2 198.3 306.7 200.7 306.2 203.3 304.6 203.2 303.6 204.7 302.3 207.9 302.6 209.4 302.2 210.1 300.5 212.6 300.1 214.0 299.9 215.4 298.8 217.2 297.1 219.2 296.3 221.0 295.1 223.0 295.4 224.5 294.1 225.6 294.6 226.9 294.5 228.7 293.5 231.0 293.9 232.9 292.1 236.1 291.5 237.5 292.1 239.2 289.8 240.4 289.9 242.5 290.0 244.6 290.0 245.8 288.8 246.9 288.6 247.6 286.9 249.5 287.3 250.3 286.2 253.0 286.0 254.2 285.3 256.2 284.2 257.6 284.8 259.2 285.4 260.2 285.1 262.0 284.3 263.1 284.0 266.3 284.7 267.6 284.0 269.6 283.7 272.4 283.2 273.6 282.3 275.6 281.4 275.9 281.0 277.1 279.8 279.2 279.5 280.8 280.0 283.1 279.0 285.8 279.1 287.5 279.6 288.8 279.0M192.8 312.6 194.4 312.4 195.7 312.4 197.3 312.3 197.9 311.8 201.0 311.6 202.7 311.8 203.8 311.8 205.0 311.0 206.7 310.1 209.2 310.6 212.7 309.9 214.4 309.4 215.5 308.6 217.9 309.4 219.7 308.3 222.5 309.0 223.4 307.1 224.6 306.3 225.9 306.9 228.5 306.7 229.6 306.1 232.3 305.7 235.3 306.2 237.5 305.2 239.0 304.3 240.0 304.3 240.6 304.5 242.1 303.3 243.8 303.0 245.8 301.2 247.3 302.4 249.8 303.6 251.6 303.6 252.9 303.0 256.1 301.8 258.0 301.2 259.6 301.6 261.2 301.3 263.0 300.3 263.8 301.2 266.6 301.5 268.8 298.8M192.8 312.6 194.8 312.1 197.5 309.7 199.8 310.4 202.5 310.6 204.6 310.5 206.0 310.0 207.3 310.6 208.8 310.4 210.3 309.7 212.2 309.6 213.6 309.6 215.7 309.9 217.0 309.6 218.8 310.0 220.8 309.5 223.3 310.3 223.7 309.6 226.6 308.7 228.0 309.3 229.7 309.4 230.8 308.9 232.2 308.9 233.8 308.8 236.1 308.4 238.2 308.9 239.1 308.5 241.2 307.7 242.4 306.9 244.6 307.8 246.4 307.8 249.3 307.8 251.1 308.0 252.0 307.9 253.1 307.6 255.3 305.8 257.2 305.2 259.7 304.9 261.7 305.4 263.7 304.7 265.0 305.9 266.5 306.7 268.3 306.3 269.9 305.9 272.7 305.5 275.1 305.3 276.6 306.0 279.0 305.1 281.2 304.9M192.8 312.6 193.7 311.4 195.9 309.8 196.7 307.4 198.1 304.6 201.2 302.3 202.3 301.6 203.6 302.1 205.3 302.1 207.4 302.1 210.0 302.9 211.7 303.6 213.6 302.0 216.0 301.5 217.3 301.8 218.4 301.0 219.5 301.4 222.1 300.1 223.8 299.8 225.6 299.4 227.2 298.6 228.6 298.5 230.5 298.3 232.9 296.8 233.9 296.0 235.8 295.7 236.5 295.1 238.0 294.9 241.0 294.5 241.5 293.6 243.9 293.9 245.3 293.9 247.1 292.4 250.2 292.3 251.2 290.9 252.3 290.2 253.4 288.1 254.6 288.3 257.5 288.2 259.9 287.9 261.0 287.8M192.8 312.6 195.1 306.9 196.1 303.3 198.0 300.6 200.7 300.0 202.8 298.5 203.9 298.8 204.6 297.5 205.4 297.1 205.8 295.5 207.7 293.8 208.3 294.1 211.2 293.1 212.2 291.3 212.8 290.8 214.9 289.8 216.8 289.5 218.9 289.7 218.6 288.8 220.3 287.8 220.7 287.9 222.5 286.1 225.0 284.3 225.7 284.5 226.4 284.9 227.7 284.1 229.3 283.1 232.2 282.7 233.4 282.1 234.9 281.6 236.1 280.9 237.4 280.0 239.3 278.9 241.2 278.4 242.5 278.6 244.3 278.7 245.8 276.9 246.7 276.3 248.6 276.3 250.6 276.3 251.0 275.5M192.8 312.6 194.9 305.7 195.6 301.3 197.0 298.7 198.7 298.8 199.7 295.1 201.2 293.9 201.8 293.4 202.7 292.9 204.4 292.5 205.1 291.1 207.1 290.7 208.1 289.2 209.6 287.7 211.5 287.5 213.3 288.2 213.8 287.0 215.8 285.5 217.2 285.5 218.3 283.3 219.9 282.3 221.0 283.1 221.9 281.5 222.8 280.4 224.6 281.6 225.9 281.2 227.1 279.4 227.7 280.2 229.1 279.3 230.9 278.6 231.8 278.1 234.6 277.2 236.1 276.5 237.2 277.2 238.5 274.7M192.8 312.6 193.1 316.0 194.7 318.1 195.2 320.1 197.5 321.6 198.7 322.3 199.6 323.6 200.3 323.3 202.4 324.6 203.8 326.9 206.2 328.3 207.9 329.9 210.9 330.7 212.4 330.8 213.2 331.8 214.3 333.5 216.8 333.4 218.5 335.1 219.9 335.2 221.1 336.3 222.8 336.5 223.9 338.5 225.2 339.0 226.8 339.3 229.1 340.0 230.7 341.1 231.9 341.2 232.7 341.2 233.9 342.3 236.0 342.6 237.6 343.9 240.3 344.6 241.4 345.1 242.7 345.9 243.6 347.1 244.5 346.9 247.2 347.3 248.6 348.1 249.7 347.3 251.3 348.0 253.3 351.0 254.9 351.1 256.2 351.2 257.8 351.2 260.0 352.1 261.2 351.9 261.9 352.8 263.7 353.2M192.8 312.6 196.0 316.1 196.4 317.5 196.9 319.2 197.7 319.4 200.5 320.8 201.0 322.6 202.7 321.2 204.1 322.8 206.9 323.6 208.6 325.2 211.1 326.2 211.7 327.5 213.3 327.0 215.2 329.2 216.9 329.1 218.2 330.2 219.5 330.7 221.7 331.7 223.7 331.8 225.1 332.5 227.4 333.3 228.1 333.5 230.1 333.9 232.1 333.5 233.0 333.3 235.3 334.2 236.6 335.4 238.4 336.1 239.3 337.0 240.3 336.3 242.3 337.9 244.3 338.3 246.9 338.6 247.6 339.8 249.9 340.3 252.2 341.2 253.6 343.0 255.2 342.4 257.0 343.3 258.6 343.4 259.7 344.0 261.7 343.7 264.6 344.8 265.6 344.5 266.8 344.4 267.4 343.9 270.1 344.9 271.0 346.0 272.5 345.6 274.2 346.3 276.6 347.3 277.9 349.4 280.2 348.2 281.9 349.3 283.7 349.7M192.8 312.6 192.7 314.7 193.5 315.3 194.3 316.5 196.1 318.7 197.9 319.7 198.9 321.1 200.9 321.7 202.6 321.8 205.4 322.3 207.0 321.7 208.6 321.7 210.9 324.1 213.7 324.5 214.7 325.0 217.0 325.2 220.4 326.8 222.2 327.2 223.2 327.6 224.3 326.6 226.2 327.4 228.1 329.1 229.6 329.6 230.7 328.8 232.7 329.0 234.2 329.7 236.0 330.0 237.9 330.4 239.2 330.8 241.3 331.3 242.8 331.9 244.5 332.4 246.2 333.5 247.7 333.8 248.8 336.0 250.8 336.1 252.8 335.6 254.8 336.1 256.5 337.6 258.5 338.1 259.5 337.6 260.9 338.4 262.6 339.2 264.9 339.8 266.5 338.9 268.3 337.7 270.5 338.4 271.2 338.9 273.7 339.1 275.4 339.5 276.8 340.2 278.6 340.9M192.8 312.6 195.6 314.6 196.7 315.8 198.3 316.8 200.8 316.7 203.1 319.5 205.4 320.2 207.0 319.4 209.0 318.8 210.3 320.4 211.1 319.6 212.5 320.4 213.8 321.7 216.4 321.1 217.7 321.3 218.6 322.1 219.9 321.9 222.5 323.2 223.1 323.2 226.2 324.6 228.7 324.8 230.0 326.3 231.2 327.3 233.1 325.6 234.6 326.7 235.8 327.2 237.6 326.6 239.4 327.3 240.4 328.6 242.5 329.0 244.2 328.9 246.9 330.1 248.7 329.6 249.8 331.0 250.7 331.1 252.7 331.1 255.0 330.8 257.4 330.4 258.7 331.3 259.7 332.9 261.5 334.0 264.0 334.5 266.4 335.0 267.5 334.2 269.2 333.6 270.1 333.9 271.7 334.4 272.7 335.7M192.8 312.6 193.8 315.8 194.5 317.3 197.6 318.6 198.0 320.2 199.3 320.9 201.6 320.7 203.2 321.1 205.0 321.7 207.4 322.3 208.0 323.0 209.8 325.8 212.0 326.5 213.0 328.3 215.3 328.2 217.4 328.6 220.1 329.6 221.2 329.9 223.5 329.5 224.2 329.6 225.2 330.1 226.0 332.5 228.6 332.6 230.0 334.4 231.3 334.9 233.6 334.9 234.0 335.8 235.4 336.5 236.8 335.8 239.7 336.6 241.0 337.8 242.8 336.5 245.1 337.1 247.3 338.5 248.3 338.7 249.1 338.6 250.7 340.4 253.1 341.0 254.5 340.4 257.0 341.6 259.0 343.1 261.0 343.1 262.0 342.3 263.5 344.3 265.0 343.8 267.0 343.3 268.0 345.1 268.5 345.8M192.8 312.6 195.4 314.1 195.8 314.7 197.6 314.9 200.1 315.3 201.6 316.7 203.2 316.5 204.4 316.2 206.1 316.8 206.8 317.2 208.9 318.7 211.0 319.3 212.5 321.0 214.8 320.8 216.7 321.5 218.4 323.3 220.0 323.8 221.9 325.3 223.0 325.2 224.0 325.9 227.2 325.7 228.7 325.6 230.0 325.6 231.8 326.6 233.8 326.2 235.7 327.5 237.6 328.0 239.1 327.8 241.3 327.5 242.7 326.3 245.1 326.9 247.7 327.2 249.8 327.4 250.6 328.0 252.7 328.5 254.8 329.1 255.4 330.1 256.5 331.7 259.5 331.3 261.6 332.7 263.2 333.1 264.9 332.6 266.9 333.6 268.8 333.0 270.1 334.3 270.6 335.6 271.4 334.8 272.6 335.6 275.1 336.0 277.4 335.2 278.9 335.3 281.4 335.9 283.5 336.4M192.8 312.6 194.5 313.3 196.7 312.9 197.7 312.7 199.8 313.4 202.4 314.8 203.4 316.0 205.2 315.8 206.1 316.0 207.4 316.5 210.8 316.5 212.3 316.9 214.3 319.7 215.3 319.6 217.3 321.0 219.2 320.9 220.7 321.3 223.4 321.2 225.2 323.0 226.2 322.5 227.9 323.0 228.9 323.2 230.6 324.8 233.9 324.9 234.0 326.0 235.5 326.1 236.9 326.1 239.8 326.9 242.0 326.3 242.8 327.6 245.0 326.9 247.0 326.9 248.1 327.0 249.2 327.2 251.7 327.4 254.1 327.8 256.1 328.4 258.4 329.1 260.3 330.1 260.6 330.2 262.1 331.0 263.3 330.6 265.4 330.5 266.9 331.0M192.8 312.6 194.7 314.2 196.0 315.0 196.9 315.7 198.4 317.6 199.5 317.9 200.8 318.4 203.7 321.2 205.2 322.7 206.7 323.0 208.4 322.9 210.6 324.7 211.7 325.7 213.0 325.2 215.1 325.5 215.9 326.2 216.9 326.7 219.1 326.9 221.7 327.0 223.5 327.6 224.8 326.9 226.9 329.0 228.8 328.9 230.1 329.1 231.8 329.3 233.7 331.1 235.6 331.0 236.1 332.6 238.4 333.9 239.2 334.1 241.1 334.6 242.9 334.8 244.4 336.3 246.3 336.6 248.2 336.7 249.6 338.1 251.8 337.0 253.9 337.4 255.8 338.2 256.4 340.0 258.3 340.7 259.5 340.2M192.8 312.6 193.7 315.8 195.5 317.1 197.7 317.8 199.6 319.7 200.3 319.2 202.3 319.9 204.5 320.7 206.4 321.3 207.5 322.5 209.7 324.6 210.7 326.2 213.2 327.5 215.0 328.6 216.3 329.0 217.6 330.4 218.5 330.0 220.9 330.9 221.9 331.7 224.5 333.2 225.7 333.6 226.8 334.5 228.8 335.4 230.0 335.7 230.8 336.3 233.2 336.2 233.6 337.2 236.6 338.6 237.5 338.8 238.8 339.9 240.2 340.1 242.3 340.3 243.1 342.0 245.6 342.2 247.4 342.1 249.8 341.8 250.8 342.1 252.6 341.9 254.6 341.5 257.2 342.8 257.5 343.6 258.5 344.6 260.8 345.9 261.0 346.8 262.3 348.3 264.7 347.8 266.6 347.3 268.1 346.5 269.9 347.0 271.1 347.8M192.8 312.6 194.6 314.2 196.8 315.9 197.1 315.2 199.5 316.0 200.1 316.9 202.5 315.6 204.2 315.1 205.2 314.8 208.0 316.3 210.8 316.6 212.0 317.0 214.4 317.4 215.6 317.6 217.3 318.7 220.0 317.3 221.4 317.5 222.9 318.8 224.8 319.7 225.6 320.0 227.9 320.3 230.2 319.7 232.4 319.0 233.5 319.1 235.6 319.6 236.9 319.9 238.7 320.0 240.4 321.1 241.3 321.5 244.5 321.7 246.0 322.6 247.8 322.6 249.5 323.0 250.5 323.8 252.1 324.4 253.5 324.0 255.6 324.4 257.5 323.7M192.8 312.6 193.1 311.7 195.3 310.8 198.1 311.8 199.7 312.2 199.8 312.3 202.2 312.5 204.1 314.1 205.4 317.1 207.5 316.9 209.0 315.8 211.1 318.0 213.7 318.5 214.8 318.7 217.7 319.3 219.7 318.4 220.1 317.5 221.9 316.8 223.8 316.6 227.1 319.2 227.9 319.7 230.3 318.6 232.0 318.8 234.1 320.1 235.3 320.2 237.8 321.0 239.7 321.5 240.4 321.4 242.3 321.4 243.6 322.0 246.1 323.1 247.4 323.6 249.3 322.3 250.9 323.0 252.6 323.1 254.2 323.9 256.4 322.7 258.3 323.7 260.8 323.9 262.5 324.2 264.2 325.3 265.7 325.3 267.2 325.1 270.6 325.9 271.5 326.8 272.9 326.8 275.1 326.6 276.4 326.5M192.8 312.6 195.1 316.5 196.8 319.9 197.8 320.8 200.0 322.6 201.2 323.1 202.7 325.4 204.7 326.3 205.2 326.4 206.2 328.4 207.1 330.0 209.3 331.5 210.5 333.1 211.9 333.2 213.3 333.0 214.4 335.8 214.7 336.9 216.6 337.3 218.0 337.8 219.1 338.6 220.1 339.3 222.0 338.9 224.2 340.1 224.9 341.4 225.1 341.4 227.3 342.1 228.8 342.5 230.7 342.6 231.0 342.1 232.2 342.8 233.2 343.6 236.6 344.4 237.6 344.7 238.7 346.2 239.7 347.5 241.2 348.9 243.3 349.2 243.7 350.4 245.1 351.0 247.5 352.1M192.8 312.6 193.8 315.7 195.2 318.5 195.9 320.1 197.0 322.2 197.1 323.5 198.3 324.6 199.4 326.2 200.7 328.9 202.0 329.4 203.2 330.4 205.2 332.9 205.4 333.9 206.1 334.9 206.6 335.8 208.4 337.0 210.0 337.1 211.5 337.9 211.2 339.1 211.2 341.2 213.4 343.8 215.1 344.1 216.6 343.4 217.5 345.0 218.9 346.5 219.8 346.9 221.4 348.7 222.2 347.6 223.0 347.3 224.5 349.9 225.6 350.4 225.9 351.5 225.9 351.2" stroke="#111" stroke-opacity="0.72" stroke-width="0.55" fill="none" stroke-linejoin="round"/>
<rect x="181.60" y="274.00" width="112.30" height="86.80" fill="none" stroke="#111" stroke-width="1.5"/>
<line x1="178.00" y1="360.80" x2="181.60" y2="360.80" stroke="#111" stroke-width="1.3"/>
<text x="174.50" y="363.10" font-size="6.4" text-anchor="end" textLength="12.42" lengthAdjust="spacingAndGlyphs" fill="#111">-250</text>
<line x1="178.00" y1="351.16" x2="181.60" y2="351.16" stroke="#111" stroke-width="1.3"/>
<text x="174.50" y="353.46" font-size="6.4" text-anchor="end" textLength="12.42" lengthAdjust="spacingAndGlyphs" fill="#111">-200</text>
<line x1="178.00" y1="341.51" x2="181.60" y2="341.51" stroke="#111" stroke-width="1.3"/>
<text x="174.50" y="343.82" font-size="6.4" text-anchor="end" textLength="12.42" lengthAdjust="spacingAndGlyphs" fill="#111">-150</text>
<line x1="178.00" y1="331.87" x2="181.60" y2="331.87" stroke="#111" stroke-width="1.3"/>
<text x="174.50" y="334.17" font-size="6.4" text-anchor="end" textLength="12.42" lengthAdjust="spacingAndGlyphs" fill="#111">-100</text>
<line x1="178.00" y1="322.22" x2="181.60" y2="322.22" stroke="#111" stroke-width="1.3"/>
<text x="174.50" y="324.53" font-size="6.4" text-anchor="end" textLength="8.92" lengthAdjust="spacingAndGlyphs" fill="#111">-50</text>
<line x1="178.00" y1="312.58" x2="181.60" y2="312.58" stroke="#111" stroke-width="1.3"/>
<text x="174.50" y="314.88" font-size="6.4" text-anchor="end" textLength="3.50" lengthAdjust="spacingAndGlyphs" fill="#111">0</text>
<line x1="178.00" y1="302.93" x2="181.60" y2="302.93" stroke="#111" stroke-width="1.3"/>
<text x="174.50" y="305.24" font-size="6.4" text-anchor="end" textLength="7.00" lengthAdjust="spacingAndGlyphs" fill="#111">50</text>
<line x1="178.00" y1="293.29" x2="181.60" y2="293.29" stroke="#111" stroke-width="1.3"/>
<text x="174.50" y="295.59" font-size="6.4" text-anchor="end" textLength="10.50" lengthAdjust="spacingAndGlyphs" fill="#111">100</text>
<line x1="178.00" y1="283.64" x2="181.60" y2="283.64" stroke="#111" stroke-width="1.3"/>
<text x="174.50" y="285.95" font-size="6.4" text-anchor="end" textLength="10.50" lengthAdjust="spacingAndGlyphs" fill="#111">150</text>
<line x1="178.00" y1="274.00" x2="181.60" y2="274.00" stroke="#111" stroke-width="1.3"/>
<text x="174.50" y="276.30" font-size="6.4" text-anchor="end" textLength="10.50" lengthAdjust="spacingAndGlyphs" fill="#111">200</text>
<line x1="181.60" y1="360.80" x2="181.60" y2="364.10" stroke="#111" stroke-width="1.3"/>
<text x="183.60" y="371.80" font-size="6.4" text-anchor="end" textLength="8.92" lengthAdjust="spacingAndGlyphs" transform="rotate(-45 183.60 371.80)" fill="#111">-50</text>
<line x1="192.83" y1="360.80" x2="192.83" y2="364.10" stroke="#111" stroke-width="1.3"/>
<text x="194.83" y="371.80" font-size="6.4" text-anchor="end" textLength="3.50" lengthAdjust="spacingAndGlyphs" transform="rotate(-45 194.83 371.80)" fill="#111">0</text>
<line x1="204.06" y1="360.80" x2="204.06" y2="364.10" stroke="#111" stroke-width="1.3"/>
<text x="206.06" y="371.80" font-size="6.4" text-anchor="end" textLength="7.00" lengthAdjust="spacingAndGlyphs" transform="rotate(-45 206.06 371.80)" fill="#111">50</text>
<line x1="215.29" y1="360.80" x2="215.29" y2="364.10" stroke="#111" stroke-width="1.3"/>
<text x="217.29" y="371.80" font-size="6.4" text-anchor="end" textLength="10.50" lengthAdjust="spacingAndGlyphs" transform="rotate(-45 217.29 371.80)" fill="#111">100</text>
<line x1="226.52" y1="360.80" x2="226.52" y2="364.10" stroke="#111" stroke-width="1.3"/>
<text x="228.52" y="371.80" font-size="6.4" text-anchor="end" textLength="10.50" lengthAdjust="spacingAndGlyphs" transform="rotate(-45 228.52 371.80)" fill="#111">150</text>
<line x1="237.75" y1="360.80" x2="237.75" y2="364.10" stroke="#111" stroke-width="1.3"/>
<text x="239.75" y="371.80" font-size="6.4" text-anchor="end" textLength="10.50" lengthAdjust="spacingAndGlyphs" transform="rotate(-45 239.75 371.80)" fill="#111">200</text>
<line x1="248.98" y1="360.80" x2="248.98" y2="364.10" stroke="#111" stroke-width="1.3"/>
<text x="250.98" y="371.80" font-size="6.4" text-anchor="end" textLength="10.50" lengthAdjust="spacingAndGlyphs" transform="rotate(-45 250.98 371.80)" fill="#111">250</text>
<line x1="260.21" y1="360.80" x2="260.21" y2="364.10" stroke="#111" stroke-width="1.3"/>
<text x="262.21" y="371.80" font-size="6.4" text-anchor="end" textLength="10.50" lengthAdjust="spacingAndGlyphs" transform="rotate(-45 262.21 371.80)" fill="#111">300</text>
<line x1="271.44" y1="360.80" x2="271.44" y2="364.10" stroke="#111" stroke-width="1.3"/>
<text x="273.44" y="371.80" font-size="6.4" text-anchor="end" textLength="10.50" lengthAdjust="spacingAndGlyphs" transform="rotate(-45 273.44 371.80)" fill="#111">350</text>
<line x1="282.67" y1="360.80" x2="282.67" y2="364.10" stroke="#111" stroke-width="1.3"/>
<text x="284.67" y="371.80" font-size="6.4" text-anchor="end" textLength="10.50" lengthAdjust="spacingAndGlyphs" transform="rotate(-45 284.67 371.80)" fill="#111">400</text>
<line x1="293.90" y1="360.80" x2="293.90" y2="364.10" stroke="#111" stroke-width="1.3"/>
<text x="295.90" y="371.80" font-size="6.4" text-anchor="end" textLength="10.50" lengthAdjust="spacingAndGlyphs" transform="rotate(-45 295.90 371.80)" fill="#111">450</text>
<text x="215.20" y="392.90" font-size="11.3" textLength="45.80" lengthAdjust="spacingAndGlyphs" fill="#111">CCRL2 KO</text>
</svg></body></html>
